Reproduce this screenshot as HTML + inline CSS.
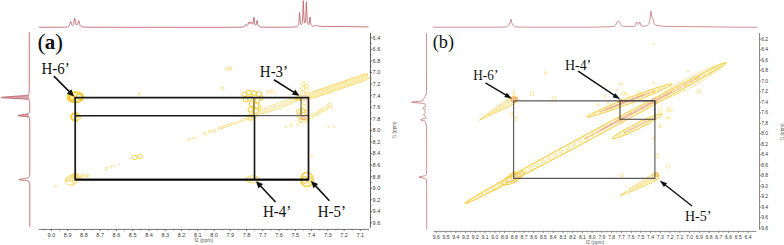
<!DOCTYPE html>
<html><head><meta charset="utf-8"><style>
html,body{margin:0;padding:0;background:#fff;overflow:hidden}
svg{display:block}
</style></head><body>
<svg width="784" height="245" viewBox="0 0 784 245">
<rect width="784" height="245" fill="#fff"/>
<path d="M39.00,27.29 L61.75,27.20 L65.50,27.07 L66.75,26.95 L67.50,26.80 L68.00,26.65 L68.50,26.40 L69.00,25.96 L69.25,25.60 L69.50,25.10 L69.75,24.39 L70.50,21.41 L70.75,21.47 L71.50,24.22 L71.75,24.77 L72.00,25.10 L72.25,25.27 L72.50,25.30 L72.75,25.21 L73.00,24.99 L73.25,24.60 L73.50,24.00 L73.75,23.08 L74.50,18.44 L74.75,17.95 L75.00,19.00 L75.50,22.28 L75.75,23.41 L76.00,24.16 L76.25,24.63 L76.50,24.90 L76.75,25.01 L77.00,24.97 L77.25,24.79 L77.50,24.41 L77.75,23.81 L78.00,22.93 L78.50,20.80 L78.75,20.53 L79.00,21.26 L79.50,23.62 L79.75,24.51 L80.00,25.14 L80.50,25.93 L80.75,26.17 L81.25,26.50 L82.00,26.77 L83.25,26.98 L84.75,27.10 L88.25,27.21 L94.75,27.26 L131.75,27.29 L224.50,27.28 L235.75,27.23 L241.00,27.12 L243.00,26.95 L243.75,26.77 L244.25,26.55 L244.75,26.10 L245.00,25.71 L245.50,24.59 L245.75,24.36 L246.50,25.41 L246.75,25.56 L247.00,25.56 L247.25,25.42 L247.50,25.15 L247.75,24.71 L248.00,24.09 L248.50,22.44 L248.75,21.92 L249.00,22.02 L249.50,23.20 L249.75,23.62 L250.00,23.76 L250.25,23.61 L250.50,23.20 L251.00,22.00 L251.25,21.86 L251.50,22.28 L252.00,23.64 L252.25,24.05 L252.50,24.19 L252.75,24.02 L253.00,23.44 L253.25,22.22 L253.75,17.50 L254.00,17.20 L254.50,22.14 L254.75,23.67 L255.00,24.53 L255.25,24.99 L255.50,25.19 L255.75,25.17 L256.00,24.93 L256.25,24.39 L256.50,23.39 L257.00,20.41 L257.25,20.67 L257.75,23.93 L258.00,24.96 L258.25,25.61 L258.50,26.02 L259.00,26.48 L259.50,26.72 L260.00,26.86 L261.25,27.04 L263.25,27.15 L271.00,27.24 L288.75,27.21 L292.75,27.14 L295.25,26.99 L296.50,26.80 L297.00,26.65 L297.50,26.39 L298.00,25.91 L298.25,25.49 L298.50,24.81 L298.75,23.64 L299.00,21.49 L299.50,12.50 L299.75,13.23 L300.00,18.28 L300.25,21.70 L300.50,23.43 L300.75,24.29 L301.00,24.67 L301.25,24.77 L301.50,24.65 L301.75,24.29 L302.00,23.61 L302.25,22.40 L302.50,20.20 L302.75,16.02 L303.25,0.68 L303.50,4.57 L303.75,13.18 L304.00,18.43 L304.25,21.06 L304.50,22.33 L304.75,22.84 L305.00,22.79 L305.25,22.16 L305.50,20.71 L305.75,17.72 L306.00,11.86 L306.25,3.25 L306.50,1.95 L307.00,17.12 L307.25,20.71 L307.50,22.60 L307.75,23.65 L308.00,24.24 L308.25,24.54 L308.50,24.63 L308.75,24.50 L309.00,24.09 L309.25,23.21 L309.50,21.51 L309.75,18.79 L310.00,16.99 L310.25,18.89 L310.50,21.71 L310.75,23.52 L311.00,24.54 L311.25,25.13 L311.50,25.49 L312.00,25.87 L312.50,26.03 L313.25,26.10 L314.00,26.01 L314.75,25.77 L315.50,25.41 L316.00,25.29 L316.50,25.41 L317.50,25.88 L318.25,26.09 L319.25,26.23 L321.75,26.36 L327.50,26.45 L340.00,26.48 L368.50,26.95" stroke="#c0666e" stroke-width="0.9" fill="none" stroke-linejoin="round" />
<path d="M28.77,94.50 L28.54,94.75 L28.04,95.00 L27.06,95.25 L25.26,95.50 L22.45,95.75 L7.49,96.75 L2.09,97.25 L1.08,97.50 L2.32,97.75 L5.85,98.00 L20.71,98.75 L24.23,99.00 L26.55,99.25 L27.94,99.50 L28.69,99.75 L29.08,100.00 L29.27,100.25 L29.38,100.50 Z" fill="#b85866" fill-opacity="0.55" stroke="none"/>
<path d="M28.19,113.50 L27.60,113.75 L26.79,114.00 L25.69,114.25 L24.19,114.50 L18.64,115.25 L17.85,115.50 L18.41,115.75 L20.19,116.00 L24.93,116.50 L26.81,116.75 L28.09,117.00 L28.85,117.25 L29.25,117.50 L29.46,117.75 Z" fill="#b85866" fill-opacity="0.55" stroke="none"/>
<path d="M29.30,32.20 L29.26,87.45 L29.14,92.45 L29.01,93.70 L28.80,94.45 L28.60,94.70 L28.17,94.95 L27.31,95.20 L25.70,95.45 L23.10,95.70 L8.13,96.70 L2.50,97.20 L1.12,97.45 L1.87,97.70 L4.99,97.95 L19.86,98.70 L23.62,98.95 L26.17,99.20 L27.72,99.45 L28.58,99.70 L29.02,99.95 L29.24,100.20 L29.44,100.70 L29.58,101.70 L29.68,103.45 L29.72,109.70 L29.64,111.70 L29.53,112.20 L29.26,112.70 L28.72,113.20 L28.29,113.45 L26.98,113.95 L24.52,114.45 L18.92,115.20 L17.91,115.45 L18.18,115.70 L19.76,115.95 L24.49,116.45 L26.48,116.70 L27.88,116.95 L28.73,117.20 L29.19,117.45 L29.43,117.70 L29.54,117.95 L29.64,118.45 L29.73,120.45 L29.78,124.95 L29.79,159.45 L29.76,172.70 L29.72,174.70 L29.62,175.70 L29.36,176.45 L29.04,176.95 L28.53,177.45 L27.62,177.95 L26.80,178.20 L25.58,178.45 L20.09,179.20 L18.92,179.45 L18.98,179.70 L20.29,179.95 L24.57,180.45 L26.43,180.70 L27.77,180.95 L28.60,181.20 L29.08,181.45 L29.34,181.70 L29.56,182.20 L29.72,183.70 L29.78,187.70 L29.80,226.95" stroke="#c0666e" stroke-width="0.9" fill="none" stroke-linejoin="round" />
<text x="37.6" y="49.8" font-family="'Liberation Serif', serif" font-size="24" font-weight="normal" fill="#111" text-anchor="start" >(</text>
<text x="44.7" y="48.7" font-family="'Liberation Serif', serif" font-size="21" font-weight="bold" fill="#111" text-anchor="start" >a</text>
<text x="55.0" y="49.8" font-family="'Liberation Serif', serif" font-size="24" font-weight="normal" fill="#111" text-anchor="start" >)</text>
<line x1="370.5" y1="32.8" x2="370.5" y2="227.6" stroke="#3a3a3a" stroke-width="0.8" />
<line x1="370.5" y1="37.8" x2="372" y2="37.8" stroke="#3a3a3a" stroke-width="0.7" />
<text x="372.6" y="39.65" font-family="'Liberation Sans', sans-serif" font-size="5.5" font-weight="normal" fill="#383838" text-anchor="start" >6.4</text>
<line x1="370.5" y1="43.58749999999998" x2="371.6" y2="43.58749999999998" stroke="#3a3a3a" stroke-width="0.5" />
<line x1="370.5" y1="49.37500000000001" x2="372" y2="49.37500000000001" stroke="#3a3a3a" stroke-width="0.7" />
<text x="372.6" y="51.22500000000001" font-family="'Liberation Sans', sans-serif" font-size="5.5" font-weight="normal" fill="#383838" text-anchor="start" >6.6</text>
<line x1="370.5" y1="55.16249999999999" x2="371.6" y2="55.16249999999999" stroke="#3a3a3a" stroke-width="0.5" />
<line x1="370.5" y1="60.95000000000002" x2="372" y2="60.95000000000002" stroke="#3a3a3a" stroke-width="0.7" />
<text x="372.6" y="62.80000000000002" font-family="'Liberation Sans', sans-serif" font-size="5.5" font-weight="normal" fill="#383838" text-anchor="start" >6.8</text>
<line x1="370.5" y1="66.7375" x2="371.6" y2="66.7375" stroke="#3a3a3a" stroke-width="0.5" />
<line x1="370.5" y1="72.52499999999998" x2="372" y2="72.52499999999998" stroke="#3a3a3a" stroke-width="0.7" />
<text x="372.6" y="74.37499999999997" font-family="'Liberation Sans', sans-serif" font-size="5.5" font-weight="normal" fill="#383838" text-anchor="start" >7.0</text>
<line x1="370.5" y1="78.31249999999996" x2="371.6" y2="78.31249999999996" stroke="#3a3a3a" stroke-width="0.5" />
<line x1="370.5" y1="84.1" x2="372" y2="84.1" stroke="#3a3a3a" stroke-width="0.7" />
<text x="372.6" y="85.94999999999999" font-family="'Liberation Sans', sans-serif" font-size="5.5" font-weight="normal" fill="#383838" text-anchor="start" >7.2</text>
<line x1="370.5" y1="89.88749999999996" x2="371.6" y2="89.88749999999996" stroke="#3a3a3a" stroke-width="0.5" />
<line x1="370.5" y1="95.675" x2="372" y2="95.675" stroke="#3a3a3a" stroke-width="0.7" />
<text x="372.6" y="97.52499999999999" font-family="'Liberation Sans', sans-serif" font-size="5.5" font-weight="normal" fill="#383838" text-anchor="start" >7.4</text>
<line x1="370.5" y1="101.46249999999998" x2="371.6" y2="101.46249999999998" stroke="#3a3a3a" stroke-width="0.5" />
<line x1="370.5" y1="107.25000000000001" x2="372" y2="107.25000000000001" stroke="#3a3a3a" stroke-width="0.7" />
<text x="372.6" y="109.10000000000001" font-family="'Liberation Sans', sans-serif" font-size="5.5" font-weight="normal" fill="#383838" text-anchor="start" >7.6</text>
<line x1="370.5" y1="113.03749999999998" x2="371.6" y2="113.03749999999998" stroke="#3a3a3a" stroke-width="0.5" />
<line x1="370.5" y1="118.82500000000002" x2="372" y2="118.82500000000002" stroke="#3a3a3a" stroke-width="0.7" />
<text x="372.6" y="120.67500000000001" font-family="'Liberation Sans', sans-serif" font-size="5.5" font-weight="normal" fill="#383838" text-anchor="start" >7.8</text>
<line x1="370.5" y1="124.6125" x2="371.6" y2="124.6125" stroke="#3a3a3a" stroke-width="0.5" />
<line x1="370.5" y1="130.39999999999998" x2="372" y2="130.39999999999998" stroke="#3a3a3a" stroke-width="0.7" />
<text x="372.6" y="132.24999999999997" font-family="'Liberation Sans', sans-serif" font-size="5.5" font-weight="normal" fill="#383838" text-anchor="start" >8.0</text>
<line x1="370.5" y1="136.18749999999994" x2="371.6" y2="136.18749999999994" stroke="#3a3a3a" stroke-width="0.5" />
<line x1="370.5" y1="141.97500000000002" x2="372" y2="141.97500000000002" stroke="#3a3a3a" stroke-width="0.7" />
<text x="372.6" y="143.82500000000002" font-family="'Liberation Sans', sans-serif" font-size="5.5" font-weight="normal" fill="#383838" text-anchor="start" >8.2</text>
<line x1="370.5" y1="147.76250000000002" x2="371.6" y2="147.76250000000002" stroke="#3a3a3a" stroke-width="0.5" />
<line x1="370.5" y1="153.55" x2="372" y2="153.55" stroke="#3a3a3a" stroke-width="0.7" />
<text x="372.6" y="155.4" font-family="'Liberation Sans', sans-serif" font-size="5.5" font-weight="normal" fill="#383838" text-anchor="start" >8.4</text>
<line x1="370.5" y1="159.33749999999998" x2="371.6" y2="159.33749999999998" stroke="#3a3a3a" stroke-width="0.5" />
<line x1="370.5" y1="165.12500000000006" x2="372" y2="165.12500000000006" stroke="#3a3a3a" stroke-width="0.7" />
<text x="372.6" y="166.97500000000005" font-family="'Liberation Sans', sans-serif" font-size="5.5" font-weight="normal" fill="#383838" text-anchor="start" >8.6</text>
<line x1="370.5" y1="170.91250000000002" x2="371.6" y2="170.91250000000002" stroke="#3a3a3a" stroke-width="0.5" />
<line x1="370.5" y1="176.70000000000005" x2="372" y2="176.70000000000005" stroke="#3a3a3a" stroke-width="0.7" />
<text x="372.6" y="178.55000000000004" font-family="'Liberation Sans', sans-serif" font-size="5.5" font-weight="normal" fill="#383838" text-anchor="start" >8.8</text>
<line x1="370.5" y1="182.4875" x2="371.6" y2="182.4875" stroke="#3a3a3a" stroke-width="0.5" />
<line x1="370.5" y1="188.27499999999998" x2="372" y2="188.27499999999998" stroke="#3a3a3a" stroke-width="0.7" />
<text x="372.6" y="190.12499999999997" font-family="'Liberation Sans', sans-serif" font-size="5.5" font-weight="normal" fill="#383838" text-anchor="start" >9.0</text>
<line x1="370.5" y1="194.06249999999994" x2="371.6" y2="194.06249999999994" stroke="#3a3a3a" stroke-width="0.5" />
<line x1="370.5" y1="199.85000000000002" x2="372" y2="199.85000000000002" stroke="#3a3a3a" stroke-width="0.7" />
<text x="372.6" y="201.70000000000002" font-family="'Liberation Sans', sans-serif" font-size="5.5" font-weight="normal" fill="#383838" text-anchor="start" >9.2</text>
<line x1="370.5" y1="205.63750000000005" x2="371.6" y2="205.63750000000005" stroke="#3a3a3a" stroke-width="0.5" />
<line x1="370.5" y1="211.425" x2="372" y2="211.425" stroke="#3a3a3a" stroke-width="0.7" />
<text x="372.6" y="213.275" font-family="'Liberation Sans', sans-serif" font-size="5.5" font-weight="normal" fill="#383838" text-anchor="start" >9.4</text>
<line x1="370.5" y1="217.21249999999998" x2="371.6" y2="217.21249999999998" stroke="#3a3a3a" stroke-width="0.5" />
<line x1="370.5" y1="223.00000000000006" x2="372" y2="223.00000000000006" stroke="#3a3a3a" stroke-width="0.7" />
<text x="372.6" y="224.85000000000005" font-family="'Liberation Sans', sans-serif" font-size="5.5" font-weight="normal" fill="#383838" text-anchor="start" >9.6</text>
<line x1="38.9" y1="229.4" x2="368.7" y2="229.4" stroke="#3a3a3a" stroke-width="0.7" />
<line x1="51.4" y1="229.4" x2="51.4" y2="231" stroke="#3a3a3a" stroke-width="0.7" />
<text x="51.4" y="236.9" font-family="'Liberation Sans', sans-serif" font-size="5.5" font-weight="normal" fill="#383838" text-anchor="middle" >9.0</text>
<line x1="43.26999999999988" y1="229.4" x2="43.26999999999988" y2="230.6" stroke="#3a3a3a" stroke-width="0.5" />
<line x1="67.65999999999994" y1="229.4" x2="67.65999999999994" y2="231" stroke="#3a3a3a" stroke-width="0.7" />
<text x="67.65999999999994" y="236.9" font-family="'Liberation Sans', sans-serif" font-size="5.5" font-weight="normal" fill="#383838" text-anchor="middle" >8.9</text>
<line x1="59.52999999999982" y1="229.4" x2="59.52999999999982" y2="230.6" stroke="#3a3a3a" stroke-width="0.5" />
<line x1="83.91999999999987" y1="229.4" x2="83.91999999999987" y2="231" stroke="#3a3a3a" stroke-width="0.7" />
<text x="83.91999999999987" y="236.9" font-family="'Liberation Sans', sans-serif" font-size="5.5" font-weight="normal" fill="#383838" text-anchor="middle" >8.8</text>
<line x1="75.78999999999976" y1="229.4" x2="75.78999999999976" y2="230.6" stroke="#3a3a3a" stroke-width="0.5" />
<line x1="100.18000000000012" y1="229.4" x2="100.18000000000012" y2="231" stroke="#3a3a3a" stroke-width="0.7" />
<text x="100.18000000000012" y="236.9" font-family="'Liberation Sans', sans-serif" font-size="5.5" font-weight="normal" fill="#383838" text-anchor="middle" >8.7</text>
<line x1="92.05" y1="229.4" x2="92.05" y2="230.6" stroke="#3a3a3a" stroke-width="0.5" />
<line x1="116.44000000000005" y1="229.4" x2="116.44000000000005" y2="231" stroke="#3a3a3a" stroke-width="0.7" />
<text x="116.44000000000005" y="236.9" font-family="'Liberation Sans', sans-serif" font-size="5.5" font-weight="normal" fill="#383838" text-anchor="middle" >8.6</text>
<line x1="108.30999999999995" y1="229.4" x2="108.30999999999995" y2="230.6" stroke="#3a3a3a" stroke-width="0.5" />
<line x1="132.7" y1="229.4" x2="132.7" y2="231" stroke="#3a3a3a" stroke-width="0.7" />
<text x="132.7" y="236.9" font-family="'Liberation Sans', sans-serif" font-size="5.5" font-weight="normal" fill="#383838" text-anchor="middle" >8.5</text>
<line x1="124.56999999999988" y1="229.4" x2="124.56999999999988" y2="230.6" stroke="#3a3a3a" stroke-width="0.5" />
<line x1="148.95999999999995" y1="229.4" x2="148.95999999999995" y2="231" stroke="#3a3a3a" stroke-width="0.7" />
<text x="148.95999999999995" y="236.9" font-family="'Liberation Sans', sans-serif" font-size="5.5" font-weight="normal" fill="#383838" text-anchor="middle" >8.4</text>
<line x1="140.8299999999998" y1="229.4" x2="140.8299999999998" y2="230.6" stroke="#3a3a3a" stroke-width="0.5" />
<line x1="165.21999999999989" y1="229.4" x2="165.21999999999989" y2="231" stroke="#3a3a3a" stroke-width="0.7" />
<text x="165.21999999999989" y="236.9" font-family="'Liberation Sans', sans-serif" font-size="5.5" font-weight="normal" fill="#383838" text-anchor="middle" >8.3</text>
<line x1="157.08999999999978" y1="229.4" x2="157.08999999999978" y2="230.6" stroke="#3a3a3a" stroke-width="0.5" />
<line x1="181.4800000000001" y1="229.4" x2="181.4800000000001" y2="231" stroke="#3a3a3a" stroke-width="0.7" />
<text x="181.4800000000001" y="236.9" font-family="'Liberation Sans', sans-serif" font-size="5.5" font-weight="normal" fill="#383838" text-anchor="middle" >8.2</text>
<line x1="173.35" y1="229.4" x2="173.35" y2="230.6" stroke="#3a3a3a" stroke-width="0.5" />
<line x1="197.74000000000007" y1="229.4" x2="197.74000000000007" y2="231" stroke="#3a3a3a" stroke-width="0.7" />
<text x="197.74000000000007" y="236.9" font-family="'Liberation Sans', sans-serif" font-size="5.5" font-weight="normal" fill="#383838" text-anchor="middle" >8.1</text>
<line x1="189.60999999999996" y1="229.4" x2="189.60999999999996" y2="230.6" stroke="#3a3a3a" stroke-width="0.5" />
<line x1="214.0" y1="229.4" x2="214.0" y2="231" stroke="#3a3a3a" stroke-width="0.7" />
<text x="214.0" y="236.9" font-family="'Liberation Sans', sans-serif" font-size="5.5" font-weight="normal" fill="#383838" text-anchor="middle" >8.0</text>
<line x1="205.8699999999999" y1="229.4" x2="205.8699999999999" y2="230.6" stroke="#3a3a3a" stroke-width="0.5" />
<line x1="230.25999999999993" y1="229.4" x2="230.25999999999993" y2="231" stroke="#3a3a3a" stroke-width="0.7" />
<text x="230.25999999999993" y="236.9" font-family="'Liberation Sans', sans-serif" font-size="5.5" font-weight="normal" fill="#383838" text-anchor="middle" >7.9</text>
<line x1="222.12999999999997" y1="229.4" x2="222.12999999999997" y2="230.6" stroke="#3a3a3a" stroke-width="0.5" />
<line x1="246.52000000000004" y1="229.4" x2="246.52000000000004" y2="231" stroke="#3a3a3a" stroke-width="0.7" />
<text x="246.52000000000004" y="236.9" font-family="'Liberation Sans', sans-serif" font-size="5.5" font-weight="normal" fill="#383838" text-anchor="middle" >7.8</text>
<line x1="238.39000000000004" y1="229.4" x2="238.39000000000004" y2="230.6" stroke="#3a3a3a" stroke-width="0.5" />
<line x1="262.78" y1="229.4" x2="262.78" y2="231" stroke="#3a3a3a" stroke-width="0.7" />
<text x="262.78" y="236.9" font-family="'Liberation Sans', sans-serif" font-size="5.5" font-weight="normal" fill="#383838" text-anchor="middle" >7.7</text>
<line x1="254.65" y1="229.4" x2="254.65" y2="230.6" stroke="#3a3a3a" stroke-width="0.5" />
<line x1="279.04" y1="229.4" x2="279.04" y2="231" stroke="#3a3a3a" stroke-width="0.7" />
<text x="279.04" y="236.9" font-family="'Liberation Sans', sans-serif" font-size="5.5" font-weight="normal" fill="#383838" text-anchor="middle" >7.6</text>
<line x1="270.9100000000001" y1="229.4" x2="270.9100000000001" y2="230.6" stroke="#3a3a3a" stroke-width="0.5" />
<line x1="295.29999999999995" y1="229.4" x2="295.29999999999995" y2="231" stroke="#3a3a3a" stroke-width="0.7" />
<text x="295.29999999999995" y="236.9" font-family="'Liberation Sans', sans-serif" font-size="5.5" font-weight="normal" fill="#383838" text-anchor="middle" >7.5</text>
<line x1="287.17" y1="229.4" x2="287.17" y2="230.6" stroke="#3a3a3a" stroke-width="0.5" />
<line x1="311.5599999999999" y1="229.4" x2="311.5599999999999" y2="231" stroke="#3a3a3a" stroke-width="0.7" />
<text x="311.5599999999999" y="236.9" font-family="'Liberation Sans', sans-serif" font-size="5.5" font-weight="normal" fill="#383838" text-anchor="middle" >7.4</text>
<line x1="303.42999999999995" y1="229.4" x2="303.42999999999995" y2="230.6" stroke="#3a3a3a" stroke-width="0.5" />
<line x1="327.82" y1="229.4" x2="327.82" y2="231" stroke="#3a3a3a" stroke-width="0.7" />
<text x="327.82" y="236.9" font-family="'Liberation Sans', sans-serif" font-size="5.5" font-weight="normal" fill="#383838" text-anchor="middle" >7.3</text>
<line x1="319.69" y1="229.4" x2="319.69" y2="230.6" stroke="#3a3a3a" stroke-width="0.5" />
<line x1="344.0799999999999" y1="229.4" x2="344.0799999999999" y2="231" stroke="#3a3a3a" stroke-width="0.7" />
<text x="344.0799999999999" y="236.9" font-family="'Liberation Sans', sans-serif" font-size="5.5" font-weight="normal" fill="#383838" text-anchor="middle" >7.2</text>
<line x1="335.95" y1="229.4" x2="335.95" y2="230.6" stroke="#3a3a3a" stroke-width="0.5" />
<line x1="360.34000000000003" y1="229.4" x2="360.34000000000003" y2="231" stroke="#3a3a3a" stroke-width="0.7" />
<text x="360.34000000000003" y="236.9" font-family="'Liberation Sans', sans-serif" font-size="5.5" font-weight="normal" fill="#383838" text-anchor="middle" >7.1</text>
<line x1="352.21000000000004" y1="229.4" x2="352.21000000000004" y2="230.6" stroke="#3a3a3a" stroke-width="0.5" />
<line x1="368.46999999999997" y1="229.4" x2="368.46999999999997" y2="230.6" stroke="#3a3a3a" stroke-width="0.5" />
<text x="203.7" y="242.3" font-family="'Liberation Sans', sans-serif" font-size="5.0" font-weight="normal" fill="#555" text-anchor="middle" >f2 (ppm)</text>
<text x="0" y="0" font-family="'Liberation Sans', sans-serif" font-size="4.6" font-weight="normal" fill="#555" text-anchor="middle" transform="translate(395.6,130) rotate(-90)">f1 (ppm)</text>
<path d="M432.90,27.20 L495.15,27.17 L502.40,27.11 L505.65,26.97 L506.65,26.78 L507.40,26.43 L508.15,25.77 L508.65,25.10 L510.15,22.43 L510.40,21.69 L510.90,19.26 L511.15,19.56 L511.65,22.36 L511.90,23.14 L512.40,24.16 L513.15,25.38 L513.90,26.21 L514.65,26.66 L515.65,26.93 L516.90,27.04 L520.90,27.14 L528.90,27.18 L589.90,27.19 L605.65,26.85 L611.65,26.64 L613.15,26.53 L613.90,26.41 L614.40,26.24 L614.90,25.92 L615.40,25.32 L615.65,24.90 L616.65,22.60 L617.15,21.66 L617.40,21.42 L617.65,21.31 L618.40,21.27 L618.90,21.33 L619.15,21.50 L619.40,21.83 L620.65,24.61 L621.15,25.41 L621.40,25.69 L621.90,26.04 L622.65,26.25 L623.65,26.33 L625.40,26.37 L631.65,26.29 L633.90,26.21 L634.90,26.05 L635.40,25.77 L635.65,25.39 L635.90,24.69 L636.40,22.48 L636.65,21.97 L636.90,22.41 L637.40,23.78 L637.65,24.03 L637.90,24.08 L638.65,24.06 L638.90,23.91 L639.15,23.46 L639.65,22.04 L639.90,22.14 L640.65,25.12 L640.90,25.61 L641.15,25.85 L641.40,25.97 L641.90,26.09 L642.90,26.16 L645.40,26.10 L646.65,25.89 L647.15,25.67 L647.65,25.29 L648.15,24.71 L648.65,23.95 L649.15,23.04 L649.40,22.43 L649.65,21.57 L649.90,20.22 L650.15,18.22 L650.65,12.93 L650.90,11.13 L651.15,11.19 L651.90,16.89 L652.15,17.86 L652.40,18.16 L652.65,18.24 L652.90,18.54 L653.15,19.26 L654.15,23.34 L654.40,23.98 L654.65,24.43 L654.90,24.72 L655.15,24.89 L655.65,25.07 L660.65,26.04 L662.40,26.23 L664.65,26.35 L675.65,26.53 L739.90,27.20 L757.40,27.20" stroke="#c27479" stroke-width="0.8" fill="none" stroke-linejoin="round" />
<path d="M426.60,33.00 L426.56,86.75 L426.49,92.50 L426.42,93.75 L426.28,94.75 L425.53,95.00 L425.31,95.75 L424.98,96.50 L423.65,98.75 L423.45,99.25 L423.22,100.25 L423.00,100.50 L422.49,100.75 L421.45,101.00 L419.67,101.25 L411.99,102.00 L411.45,102.25 L413.08,102.50 L419.05,103.00 L421.53,103.25 L423.22,103.50 L424.22,103.75 L424.75,104.00 L425.04,104.25 L425.31,104.75 L425.46,105.50 L425.41,106.25 L425.09,106.75 L424.32,107.25 L423.25,107.75 L422.85,108.00 L422.75,108.25 L422.99,108.50 L424.53,109.25 L424.92,109.50 L425.16,109.75 L425.28,110.00 L425.24,110.50 L424.94,111.25 L424.91,111.50 L425.20,112.50 L425.21,112.75 L425.13,113.00 L424.62,113.50 L423.87,114.00 L423.62,114.25 L423.60,114.50 L423.82,114.75 L424.96,115.50 L425.43,116.00 L425.55,116.25 L425.63,116.75 L425.55,117.50 L425.27,118.00 L424.94,118.25 L424.42,118.50 L420.89,119.50 L420.47,119.75 L420.66,120.00 L421.39,120.25 L424.18,121.00 L424.79,121.25 L425.19,121.50 L425.44,121.75 L425.66,122.25 L425.76,123.00 L425.83,124.75 L426.63,125.00 L426.68,164.75 L426.65,171.00 L426.54,173.75 L426.43,174.50 L426.21,175.00 L425.96,175.25 L425.52,175.50 L424.83,175.75 L423.82,176.00 L419.75,176.75 L418.97,177.00 L419.07,177.25 L419.98,177.50 L424.05,178.25 L424.99,178.50 L425.63,178.75 L426.02,179.00 L426.24,179.25 L426.37,179.50 L426.49,180.00 L426.63,182.25 L426.68,186.75 L426.70,229.50" stroke="#c27479" stroke-width="0.8" fill="none" stroke-linejoin="round" />
<text x="432.8" y="48.0" font-family="'Liberation Serif', serif" font-size="18.2" font-weight="normal" fill="#111" text-anchor="start" >(b)</text>
<line x1="759.5" y1="33" x2="759.5" y2="229.8" stroke="#5a5a5a" stroke-width="0.7" />
<line x1="759.5" y1="39.2" x2="761" y2="39.2" stroke="#5a5a5a" stroke-width="0.7" />
<text x="761.2" y="40.95" font-family="'Liberation Sans', sans-serif" font-size="5.0" font-weight="normal" fill="#383838" text-anchor="start" >6.2</text>
<line x1="759.5" y1="44.44999999999998" x2="760.7" y2="44.44999999999998" stroke="#5a5a5a" stroke-width="0.5" />
<line x1="759.5" y1="49.70000000000001" x2="761" y2="49.70000000000001" stroke="#5a5a5a" stroke-width="0.7" />
<text x="761.2" y="51.45000000000001" font-family="'Liberation Sans', sans-serif" font-size="5.0" font-weight="normal" fill="#383838" text-anchor="start" >6.4</text>
<line x1="759.5" y1="54.949999999999996" x2="760.7" y2="54.949999999999996" stroke="#5a5a5a" stroke-width="0.5" />
<line x1="759.5" y1="60.20000000000002" x2="761" y2="60.20000000000002" stroke="#5a5a5a" stroke-width="0.7" />
<text x="761.2" y="61.95000000000002" font-family="'Liberation Sans', sans-serif" font-size="5.0" font-weight="normal" fill="#383838" text-anchor="start" >6.6</text>
<line x1="759.5" y1="65.45" x2="760.7" y2="65.45" stroke="#5a5a5a" stroke-width="0.5" />
<line x1="759.5" y1="70.70000000000003" x2="761" y2="70.70000000000003" stroke="#5a5a5a" stroke-width="0.7" />
<text x="761.2" y="72.45000000000003" font-family="'Liberation Sans', sans-serif" font-size="5.0" font-weight="normal" fill="#383838" text-anchor="start" >6.8</text>
<line x1="759.5" y1="75.95000000000002" x2="760.7" y2="75.95000000000002" stroke="#5a5a5a" stroke-width="0.5" />
<line x1="759.5" y1="81.19999999999999" x2="761" y2="81.19999999999999" stroke="#5a5a5a" stroke-width="0.7" />
<text x="761.2" y="82.94999999999999" font-family="'Liberation Sans', sans-serif" font-size="5.0" font-weight="normal" fill="#383838" text-anchor="start" >7.0</text>
<line x1="759.5" y1="86.44999999999997" x2="760.7" y2="86.44999999999997" stroke="#5a5a5a" stroke-width="0.5" />
<line x1="759.5" y1="91.7" x2="761" y2="91.7" stroke="#5a5a5a" stroke-width="0.7" />
<text x="761.2" y="93.45" font-family="'Liberation Sans', sans-serif" font-size="5.0" font-weight="normal" fill="#383838" text-anchor="start" >7.2</text>
<line x1="759.5" y1="96.94999999999999" x2="760.7" y2="96.94999999999999" stroke="#5a5a5a" stroke-width="0.5" />
<line x1="759.5" y1="102.20000000000002" x2="761" y2="102.20000000000002" stroke="#5a5a5a" stroke-width="0.7" />
<text x="761.2" y="103.95000000000002" font-family="'Liberation Sans', sans-serif" font-size="5.0" font-weight="normal" fill="#383838" text-anchor="start" >7.4</text>
<line x1="759.5" y1="107.44999999999999" x2="760.7" y2="107.44999999999999" stroke="#5a5a5a" stroke-width="0.5" />
<line x1="759.5" y1="112.70000000000002" x2="761" y2="112.70000000000002" stroke="#5a5a5a" stroke-width="0.7" />
<text x="761.2" y="114.45000000000002" font-family="'Liberation Sans', sans-serif" font-size="5.0" font-weight="normal" fill="#383838" text-anchor="start" >7.6</text>
<line x1="759.5" y1="117.95" x2="760.7" y2="117.95" stroke="#5a5a5a" stroke-width="0.5" />
<line x1="759.5" y1="123.20000000000003" x2="761" y2="123.20000000000003" stroke="#5a5a5a" stroke-width="0.7" />
<text x="761.2" y="124.95000000000003" font-family="'Liberation Sans', sans-serif" font-size="5.0" font-weight="normal" fill="#383838" text-anchor="start" >7.8</text>
<line x1="759.5" y1="128.45000000000002" x2="760.7" y2="128.45000000000002" stroke="#5a5a5a" stroke-width="0.5" />
<line x1="759.5" y1="133.7" x2="761" y2="133.7" stroke="#5a5a5a" stroke-width="0.7" />
<text x="761.2" y="135.45" font-family="'Liberation Sans', sans-serif" font-size="5.0" font-weight="normal" fill="#383838" text-anchor="start" >8.0</text>
<line x1="759.5" y1="138.95" x2="760.7" y2="138.95" stroke="#5a5a5a" stroke-width="0.5" />
<line x1="759.5" y1="144.19999999999996" x2="761" y2="144.19999999999996" stroke="#5a5a5a" stroke-width="0.7" />
<text x="761.2" y="145.94999999999996" font-family="'Liberation Sans', sans-serif" font-size="5.0" font-weight="normal" fill="#383838" text-anchor="start" >8.2</text>
<line x1="759.5" y1="149.44999999999993" x2="760.7" y2="149.44999999999993" stroke="#5a5a5a" stroke-width="0.5" />
<line x1="759.5" y1="154.70000000000002" x2="761" y2="154.70000000000002" stroke="#5a5a5a" stroke-width="0.7" />
<text x="761.2" y="156.45000000000002" font-family="'Liberation Sans', sans-serif" font-size="5.0" font-weight="normal" fill="#383838" text-anchor="start" >8.4</text>
<line x1="759.5" y1="159.95" x2="760.7" y2="159.95" stroke="#5a5a5a" stroke-width="0.5" />
<line x1="759.5" y1="165.20000000000007" x2="761" y2="165.20000000000007" stroke="#5a5a5a" stroke-width="0.7" />
<text x="761.2" y="166.95000000000007" font-family="'Liberation Sans', sans-serif" font-size="5.0" font-weight="normal" fill="#383838" text-anchor="start" >8.6</text>
<line x1="759.5" y1="170.45000000000005" x2="760.7" y2="170.45000000000005" stroke="#5a5a5a" stroke-width="0.5" />
<line x1="759.5" y1="175.70000000000005" x2="761" y2="175.70000000000005" stroke="#5a5a5a" stroke-width="0.7" />
<text x="761.2" y="177.45000000000005" font-family="'Liberation Sans', sans-serif" font-size="5.0" font-weight="normal" fill="#383838" text-anchor="start" >8.8</text>
<line x1="759.5" y1="180.95" x2="760.7" y2="180.95" stroke="#5a5a5a" stroke-width="0.5" />
<line x1="759.5" y1="186.2" x2="761" y2="186.2" stroke="#5a5a5a" stroke-width="0.7" />
<text x="761.2" y="187.95" font-family="'Liberation Sans', sans-serif" font-size="5.0" font-weight="normal" fill="#383838" text-anchor="start" >9.0</text>
<line x1="759.5" y1="191.45" x2="760.7" y2="191.45" stroke="#5a5a5a" stroke-width="0.5" />
<line x1="759.5" y1="196.69999999999993" x2="761" y2="196.69999999999993" stroke="#5a5a5a" stroke-width="0.7" />
<text x="761.2" y="198.44999999999993" font-family="'Liberation Sans', sans-serif" font-size="5.0" font-weight="normal" fill="#383838" text-anchor="start" >9.2</text>
<line x1="759.5" y1="201.94999999999993" x2="760.7" y2="201.94999999999993" stroke="#5a5a5a" stroke-width="0.5" />
<line x1="759.5" y1="207.2" x2="761" y2="207.2" stroke="#5a5a5a" stroke-width="0.7" />
<text x="761.2" y="208.95" font-family="'Liberation Sans', sans-serif" font-size="5.0" font-weight="normal" fill="#383838" text-anchor="start" >9.4</text>
<line x1="759.5" y1="212.45" x2="760.7" y2="212.45" stroke="#5a5a5a" stroke-width="0.5" />
<line x1="759.5" y1="217.70000000000005" x2="761" y2="217.70000000000005" stroke="#5a5a5a" stroke-width="0.7" />
<text x="761.2" y="219.45000000000005" font-family="'Liberation Sans', sans-serif" font-size="5.0" font-weight="normal" fill="#383838" text-anchor="start" >9.6</text>
<line x1="759.5" y1="222.95000000000005" x2="760.7" y2="222.95000000000005" stroke="#5a5a5a" stroke-width="0.5" />
<line x1="759.5" y1="228.20000000000005" x2="761" y2="228.20000000000005" stroke="#5a5a5a" stroke-width="0.7" />
<text x="761.2" y="229.95000000000005" font-family="'Liberation Sans', sans-serif" font-size="5.0" font-weight="normal" fill="#383838" text-anchor="start" >9.8</text>
<line x1="433.4" y1="231.4" x2="756.4" y2="231.4" stroke="#5a5a5a" stroke-width="0.7" />
<line x1="436.3" y1="231.4" x2="436.3" y2="233.0" stroke="#5a5a5a" stroke-width="0.7" />
<text x="436.3" y="238.9" font-family="'Liberation Sans', sans-serif" font-size="5.0" font-weight="normal" fill="#383838" text-anchor="middle" >9.6</text>
<line x1="441.1700000000001" y1="231.4" x2="441.1700000000001" y2="232.6" stroke="#5a5a5a" stroke-width="0.5" />
<line x1="446.03999999999996" y1="231.4" x2="446.03999999999996" y2="233.0" stroke="#5a5a5a" stroke-width="0.7" />
<text x="446.03999999999996" y="238.9" font-family="'Liberation Sans', sans-serif" font-size="5.0" font-weight="normal" fill="#383838" text-anchor="middle" >9.5</text>
<line x1="450.91" y1="231.4" x2="450.91" y2="232.6" stroke="#5a5a5a" stroke-width="0.5" />
<line x1="455.78" y1="231.4" x2="455.78" y2="233.0" stroke="#5a5a5a" stroke-width="0.7" />
<text x="455.78" y="238.9" font-family="'Liberation Sans', sans-serif" font-size="5.0" font-weight="normal" fill="#383838" text-anchor="middle" >9.4</text>
<line x1="460.65000000000003" y1="231.4" x2="460.65000000000003" y2="232.6" stroke="#5a5a5a" stroke-width="0.5" />
<line x1="465.5200000000001" y1="231.4" x2="465.5200000000001" y2="233.0" stroke="#5a5a5a" stroke-width="0.7" />
<text x="465.5200000000001" y="238.9" font-family="'Liberation Sans', sans-serif" font-size="5.0" font-weight="normal" fill="#383838" text-anchor="middle" >9.3</text>
<line x1="470.39000000000016" y1="231.4" x2="470.39000000000016" y2="232.6" stroke="#5a5a5a" stroke-width="0.5" />
<line x1="475.26000000000005" y1="231.4" x2="475.26000000000005" y2="233.0" stroke="#5a5a5a" stroke-width="0.7" />
<text x="475.26000000000005" y="238.9" font-family="'Liberation Sans', sans-serif" font-size="5.0" font-weight="normal" fill="#383838" text-anchor="middle" >9.2</text>
<line x1="480.1300000000001" y1="231.4" x2="480.1300000000001" y2="232.6" stroke="#5a5a5a" stroke-width="0.5" />
<line x1="485.0" y1="231.4" x2="485.0" y2="233.0" stroke="#5a5a5a" stroke-width="0.7" />
<text x="485.0" y="238.9" font-family="'Liberation Sans', sans-serif" font-size="5.0" font-weight="normal" fill="#383838" text-anchor="middle" >9.1</text>
<line x1="489.87000000000006" y1="231.4" x2="489.87000000000006" y2="232.6" stroke="#5a5a5a" stroke-width="0.5" />
<line x1="494.74" y1="231.4" x2="494.74" y2="233.0" stroke="#5a5a5a" stroke-width="0.7" />
<text x="494.74" y="238.9" font-family="'Liberation Sans', sans-serif" font-size="5.0" font-weight="normal" fill="#383838" text-anchor="middle" >9.0</text>
<line x1="499.61000000000007" y1="231.4" x2="499.61000000000007" y2="232.6" stroke="#5a5a5a" stroke-width="0.5" />
<line x1="504.47999999999996" y1="231.4" x2="504.47999999999996" y2="233.0" stroke="#5a5a5a" stroke-width="0.7" />
<text x="504.47999999999996" y="238.9" font-family="'Liberation Sans', sans-serif" font-size="5.0" font-weight="normal" fill="#383838" text-anchor="middle" >8.9</text>
<line x1="509.35" y1="231.4" x2="509.35" y2="232.6" stroke="#5a5a5a" stroke-width="0.5" />
<line x1="514.22" y1="231.4" x2="514.22" y2="233.0" stroke="#5a5a5a" stroke-width="0.7" />
<text x="514.22" y="238.9" font-family="'Liberation Sans', sans-serif" font-size="5.0" font-weight="normal" fill="#383838" text-anchor="middle" >8.8</text>
<line x1="519.0900000000001" y1="231.4" x2="519.0900000000001" y2="232.6" stroke="#5a5a5a" stroke-width="0.5" />
<line x1="523.96" y1="231.4" x2="523.96" y2="233.0" stroke="#5a5a5a" stroke-width="0.7" />
<text x="523.96" y="238.9" font-family="'Liberation Sans', sans-serif" font-size="5.0" font-weight="normal" fill="#383838" text-anchor="middle" >8.7</text>
<line x1="528.8300000000002" y1="231.4" x2="528.8300000000002" y2="232.6" stroke="#5a5a5a" stroke-width="0.5" />
<line x1="533.7" y1="231.4" x2="533.7" y2="233.0" stroke="#5a5a5a" stroke-width="0.7" />
<text x="533.7" y="238.9" font-family="'Liberation Sans', sans-serif" font-size="5.0" font-weight="normal" fill="#383838" text-anchor="middle" >8.6</text>
<line x1="538.57" y1="231.4" x2="538.57" y2="232.6" stroke="#5a5a5a" stroke-width="0.5" />
<line x1="543.4399999999999" y1="231.4" x2="543.4399999999999" y2="233.0" stroke="#5a5a5a" stroke-width="0.7" />
<text x="543.4399999999999" y="238.9" font-family="'Liberation Sans', sans-serif" font-size="5.0" font-weight="normal" fill="#383838" text-anchor="middle" >8.5</text>
<line x1="548.3100000000001" y1="231.4" x2="548.3100000000001" y2="232.6" stroke="#5a5a5a" stroke-width="0.5" />
<line x1="553.1800000000001" y1="231.4" x2="553.1800000000001" y2="233.0" stroke="#5a5a5a" stroke-width="0.7" />
<text x="553.1800000000001" y="238.9" font-family="'Liberation Sans', sans-serif" font-size="5.0" font-weight="normal" fill="#383838" text-anchor="middle" >8.4</text>
<line x1="558.0500000000002" y1="231.4" x2="558.0500000000002" y2="232.6" stroke="#5a5a5a" stroke-width="0.5" />
<line x1="562.9200000000001" y1="231.4" x2="562.9200000000001" y2="233.0" stroke="#5a5a5a" stroke-width="0.7" />
<text x="562.9200000000001" y="238.9" font-family="'Liberation Sans', sans-serif" font-size="5.0" font-weight="normal" fill="#383838" text-anchor="middle" >8.3</text>
<line x1="567.7900000000002" y1="231.4" x2="567.7900000000002" y2="232.6" stroke="#5a5a5a" stroke-width="0.5" />
<line x1="572.6600000000001" y1="231.4" x2="572.6600000000001" y2="233.0" stroke="#5a5a5a" stroke-width="0.7" />
<text x="572.6600000000001" y="238.9" font-family="'Liberation Sans', sans-serif" font-size="5.0" font-weight="normal" fill="#383838" text-anchor="middle" >8.2</text>
<line x1="577.5300000000001" y1="231.4" x2="577.5300000000001" y2="232.6" stroke="#5a5a5a" stroke-width="0.5" />
<line x1="582.4000000000001" y1="231.4" x2="582.4000000000001" y2="233.0" stroke="#5a5a5a" stroke-width="0.7" />
<text x="582.4000000000001" y="238.9" font-family="'Liberation Sans', sans-serif" font-size="5.0" font-weight="normal" fill="#383838" text-anchor="middle" >8.1</text>
<line x1="587.2700000000001" y1="231.4" x2="587.2700000000001" y2="232.6" stroke="#5a5a5a" stroke-width="0.5" />
<line x1="592.14" y1="231.4" x2="592.14" y2="233.0" stroke="#5a5a5a" stroke-width="0.7" />
<text x="592.14" y="238.9" font-family="'Liberation Sans', sans-serif" font-size="5.0" font-weight="normal" fill="#383838" text-anchor="middle" >8.0</text>
<line x1="597.01" y1="231.4" x2="597.01" y2="232.6" stroke="#5a5a5a" stroke-width="0.5" />
<line x1="601.8800000000001" y1="231.4" x2="601.8800000000001" y2="233.0" stroke="#5a5a5a" stroke-width="0.7" />
<text x="601.8800000000001" y="238.9" font-family="'Liberation Sans', sans-serif" font-size="5.0" font-weight="normal" fill="#383838" text-anchor="middle" >7.9</text>
<line x1="606.75" y1="231.4" x2="606.75" y2="232.6" stroke="#5a5a5a" stroke-width="0.5" />
<line x1="611.62" y1="231.4" x2="611.62" y2="233.0" stroke="#5a5a5a" stroke-width="0.7" />
<text x="611.62" y="238.9" font-family="'Liberation Sans', sans-serif" font-size="5.0" font-weight="normal" fill="#383838" text-anchor="middle" >7.8</text>
<line x1="616.49" y1="231.4" x2="616.49" y2="232.6" stroke="#5a5a5a" stroke-width="0.5" />
<line x1="621.3600000000001" y1="231.4" x2="621.3600000000001" y2="233.0" stroke="#5a5a5a" stroke-width="0.7" />
<text x="621.3600000000001" y="238.9" font-family="'Liberation Sans', sans-serif" font-size="5.0" font-weight="normal" fill="#383838" text-anchor="middle" >7.7</text>
<line x1="626.23" y1="231.4" x2="626.23" y2="232.6" stroke="#5a5a5a" stroke-width="0.5" />
<line x1="631.1" y1="231.4" x2="631.1" y2="233.0" stroke="#5a5a5a" stroke-width="0.7" />
<text x="631.1" y="238.9" font-family="'Liberation Sans', sans-serif" font-size="5.0" font-weight="normal" fill="#383838" text-anchor="middle" >7.6</text>
<line x1="635.97" y1="231.4" x2="635.97" y2="232.6" stroke="#5a5a5a" stroke-width="0.5" />
<line x1="640.8399999999999" y1="231.4" x2="640.8399999999999" y2="233.0" stroke="#5a5a5a" stroke-width="0.7" />
<text x="640.8399999999999" y="238.9" font-family="'Liberation Sans', sans-serif" font-size="5.0" font-weight="normal" fill="#383838" text-anchor="middle" >7.5</text>
<line x1="645.71" y1="231.4" x2="645.71" y2="232.6" stroke="#5a5a5a" stroke-width="0.5" />
<line x1="650.58" y1="231.4" x2="650.58" y2="233.0" stroke="#5a5a5a" stroke-width="0.7" />
<text x="650.58" y="238.9" font-family="'Liberation Sans', sans-serif" font-size="5.0" font-weight="normal" fill="#383838" text-anchor="middle" >7.4</text>
<line x1="655.45" y1="231.4" x2="655.45" y2="232.6" stroke="#5a5a5a" stroke-width="0.5" />
<line x1="660.3200000000002" y1="231.4" x2="660.3200000000002" y2="233.0" stroke="#5a5a5a" stroke-width="0.7" />
<text x="660.3200000000002" y="238.9" font-family="'Liberation Sans', sans-serif" font-size="5.0" font-weight="normal" fill="#383838" text-anchor="middle" >7.3</text>
<line x1="665.19" y1="231.4" x2="665.19" y2="232.6" stroke="#5a5a5a" stroke-width="0.5" />
<line x1="670.0600000000001" y1="231.4" x2="670.0600000000001" y2="233.0" stroke="#5a5a5a" stroke-width="0.7" />
<text x="670.0600000000001" y="238.9" font-family="'Liberation Sans', sans-serif" font-size="5.0" font-weight="normal" fill="#383838" text-anchor="middle" >7.2</text>
<line x1="674.9300000000001" y1="231.4" x2="674.9300000000001" y2="232.6" stroke="#5a5a5a" stroke-width="0.5" />
<line x1="679.8" y1="231.4" x2="679.8" y2="233.0" stroke="#5a5a5a" stroke-width="0.7" />
<text x="679.8" y="238.9" font-family="'Liberation Sans', sans-serif" font-size="5.0" font-weight="normal" fill="#383838" text-anchor="middle" >7.1</text>
<line x1="684.6700000000001" y1="231.4" x2="684.6700000000001" y2="232.6" stroke="#5a5a5a" stroke-width="0.5" />
<line x1="689.54" y1="231.4" x2="689.54" y2="233.0" stroke="#5a5a5a" stroke-width="0.7" />
<text x="689.54" y="238.9" font-family="'Liberation Sans', sans-serif" font-size="5.0" font-weight="normal" fill="#383838" text-anchor="middle" >7.0</text>
<line x1="694.41" y1="231.4" x2="694.41" y2="232.6" stroke="#5a5a5a" stroke-width="0.5" />
<line x1="699.28" y1="231.4" x2="699.28" y2="233.0" stroke="#5a5a5a" stroke-width="0.7" />
<text x="699.28" y="238.9" font-family="'Liberation Sans', sans-serif" font-size="5.0" font-weight="normal" fill="#383838" text-anchor="middle" >6.9</text>
<line x1="704.1500000000001" y1="231.4" x2="704.1500000000001" y2="232.6" stroke="#5a5a5a" stroke-width="0.5" />
<line x1="709.0200000000001" y1="231.4" x2="709.0200000000001" y2="233.0" stroke="#5a5a5a" stroke-width="0.7" />
<text x="709.0200000000001" y="238.9" font-family="'Liberation Sans', sans-serif" font-size="5.0" font-weight="normal" fill="#383838" text-anchor="middle" >6.8</text>
<line x1="713.8900000000001" y1="231.4" x2="713.8900000000001" y2="232.6" stroke="#5a5a5a" stroke-width="0.5" />
<line x1="718.76" y1="231.4" x2="718.76" y2="233.0" stroke="#5a5a5a" stroke-width="0.7" />
<text x="718.76" y="238.9" font-family="'Liberation Sans', sans-serif" font-size="5.0" font-weight="normal" fill="#383838" text-anchor="middle" >6.7</text>
<line x1="723.6300000000001" y1="231.4" x2="723.6300000000001" y2="232.6" stroke="#5a5a5a" stroke-width="0.5" />
<line x1="728.5" y1="231.4" x2="728.5" y2="233.0" stroke="#5a5a5a" stroke-width="0.7" />
<text x="728.5" y="238.9" font-family="'Liberation Sans', sans-serif" font-size="5.0" font-weight="normal" fill="#383838" text-anchor="middle" >6.6</text>
<line x1="733.37" y1="231.4" x2="733.37" y2="232.6" stroke="#5a5a5a" stroke-width="0.5" />
<line x1="738.24" y1="231.4" x2="738.24" y2="233.0" stroke="#5a5a5a" stroke-width="0.7" />
<text x="738.24" y="238.9" font-family="'Liberation Sans', sans-serif" font-size="5.0" font-weight="normal" fill="#383838" text-anchor="middle" >6.5</text>
<line x1="743.1099999999999" y1="231.4" x2="743.1099999999999" y2="232.6" stroke="#5a5a5a" stroke-width="0.5" />
<line x1="747.98" y1="231.4" x2="747.98" y2="233.0" stroke="#5a5a5a" stroke-width="0.7" />
<text x="747.98" y="238.9" font-family="'Liberation Sans', sans-serif" font-size="5.0" font-weight="normal" fill="#383838" text-anchor="middle" >6.4</text>
<text x="595.0" y="243.5" font-family="'Liberation Sans', sans-serif" font-size="4.9" font-weight="normal" fill="#555" text-anchor="middle" >f2 (ppm)</text>
<text x="0" y="0" font-family="'Liberation Sans', sans-serif" font-size="4.6" font-weight="normal" fill="#555" text-anchor="middle" transform="translate(783.6,132) rotate(-90)">f1 (ppm)</text>
<g id="contA">
<ellipse cx="75.40" cy="97.20" rx="7.8" ry="5.0" transform="rotate(0 75.40 97.20)" stroke="#f5ca2c" stroke-width="1.9" fill="none" opacity="1"/>
<ellipse cx="72.00" cy="97.60" rx="2.6" ry="3.0" transform="rotate(0 72.00 97.60)" stroke="#f5ca2c" stroke-width="1.5" fill="#fbe690" opacity="1"/>
<ellipse cx="79.40" cy="96.80" rx="2.8" ry="2.6" transform="rotate(0 79.40 96.80)" stroke="#f5ca2c" stroke-width="1.3" fill="none" opacity="1"/>
<path d="M78,113.6 A5,3.6 0 1 0 78,120.2" stroke="#f5ca2c" stroke-width="2.0" fill="none"/>
<ellipse cx="76.20" cy="116.90" rx="4.6" ry="3.3" transform="rotate(0 76.20 116.90)" stroke="#f7d350" stroke-width="0.9" fill="none" opacity="1"/>
<ellipse cx="78.00" cy="116.40" rx="1.9" ry="1.4" transform="rotate(0 78.00 116.40)" stroke="#f5ca2c" stroke-width="1.0" fill="none" opacity="1"/>
<ellipse cx="72.10" cy="180.32" rx="2.1014737592308483" ry="1.596158699061372" transform="rotate(91.41142915120881 72.10 180.32)" stroke="#f8dc74" stroke-width="0.8" fill="none" opacity="1"/>
<ellipse cx="72.41" cy="176.20" rx="1.5654812307543473" ry="1.304745986149044" transform="rotate(142.73583705359147 72.41 176.20)" stroke="#f8dc74" stroke-width="0.8" fill="none" opacity="1"/>
<ellipse cx="66.18" cy="180.36" rx="1.0178716987393912" ry="0.9306808502137872" transform="rotate(124.81892685742304 66.18 180.36)" stroke="#f8dc74" stroke-width="0.8" fill="none" opacity="1"/>
<ellipse cx="79.44" cy="177.89" rx="1.7002315159521422" ry="1.0556267246338293" transform="rotate(2.7001326509288837 79.44 177.89)" stroke="#f8dc74" stroke-width="0.8" fill="none" opacity="1"/>
<ellipse cx="71.10" cy="175.49" rx="1.147270741637308" ry="0.7559072712252647" transform="rotate(5.414866060461943 71.10 175.49)" stroke="#f8dc74" stroke-width="0.8" fill="none" opacity="1"/>
<ellipse cx="71.77" cy="179.21" rx="1.9951552670740917" ry="1.5634153422172758" transform="rotate(115.25250742545188 71.77 179.21)" stroke="#f8dc74" stroke-width="0.8" fill="none" opacity="1"/>
<ellipse cx="73.16" cy="180.91" rx="1.494528846079425" ry="1.0090659801992323" transform="rotate(179.57811608335518 73.16 180.91)" stroke="#f8dc74" stroke-width="0.8" fill="none" opacity="1"/>
<ellipse cx="74.58" cy="176.58" rx="1.1985656720902773" ry="0.8151061310707659" transform="rotate(12.640229920786663 74.58 176.58)" stroke="#f8dc74" stroke-width="0.8" fill="none" opacity="1"/>
<ellipse cx="75.72" cy="176.95" rx="2.0005587084455323" ry="1.4482666449488983" transform="rotate(172.44762899756643 75.72 176.95)" stroke="#f8dc74" stroke-width="0.8" fill="none" opacity="1"/>
<ellipse cx="74.04" cy="183.87" rx="1.4166517045030655" ry="0.8257198899054262" transform="rotate(113.30188420212436 74.04 183.87)" stroke="#f8dc74" stroke-width="0.8" fill="none" opacity="1"/>
<ellipse cx="75.35" cy="175.73" rx="1.0132874578578213" ry="0.7089602811474158" transform="rotate(173.53371898687755 75.35 175.73)" stroke="#f8dc74" stroke-width="0.8" fill="none" opacity="1"/>
<ellipse cx="74.46" cy="174.54" rx="1.220304333561069" ry="0.726655645378186" transform="rotate(10.780812529393806 74.46 174.54)" stroke="#f8dc74" stroke-width="0.8" fill="none" opacity="1"/>
<ellipse cx="75.23" cy="174.81" rx="1.6270836840935134" ry="1.2224949993691854" transform="rotate(34.32319475226589 75.23 174.81)" stroke="#f8dc74" stroke-width="0.8" fill="none" opacity="1"/>
<ellipse cx="74.16" cy="174.82" rx="1.7368296608245175" ry="1.0463158513485122" transform="rotate(75.73601110435577 74.16 174.82)" stroke="#f8dc74" stroke-width="0.8" fill="none" opacity="1"/>
<ellipse cx="67.66" cy="179.32" rx="2.1622077730842992" ry="1.9709284438235926" transform="rotate(54.746126976778115 67.66 179.32)" stroke="#f8dc74" stroke-width="0.8" fill="none" opacity="1"/>
<ellipse cx="76.56" cy="174.54" rx="1.4125570281936708" ry="1.3199916092575017" transform="rotate(115.53041818628289 76.56 174.54)" stroke="#f8dc74" stroke-width="0.8" fill="none" opacity="1"/>
<ellipse cx="67.62" cy="179.21" rx="1.9044965967046705" ry="1.3293956479780038" transform="rotate(53.33845726781034 67.62 179.21)" stroke="#f8dc74" stroke-width="0.8" fill="none" opacity="1"/>
<ellipse cx="72.58" cy="176.74" rx="1.6816689966565206" ry="1.2062053751505075" transform="rotate(81.57745885029281 72.58 176.74)" stroke="#f8dc74" stroke-width="0.8" fill="none" opacity="1"/>
<ellipse cx="78.68" cy="176.45" rx="1.6469426190589318" ry="1.5480215642478043" transform="rotate(32.90898884016333 78.68 176.45)" stroke="#f8dc74" stroke-width="0.8" fill="none" opacity="1"/>
<ellipse cx="75.80" cy="175.31" rx="1.1467408657522382" ry="1.0122751503852312" transform="rotate(169.27288129707884 75.80 175.31)" stroke="#f8dc74" stroke-width="0.8" fill="none" opacity="1"/>
<ellipse cx="78.12" cy="177.98" rx="1.4478943911315654" ry="0.8639989166236998" transform="rotate(6.965364904880877 78.12 177.98)" stroke="#f8dc74" stroke-width="0.8" fill="none" opacity="1"/>
<ellipse cx="74.30" cy="176.09" rx="1.9708332007845586" ry="1.6129492804578487" transform="rotate(52.81836236725268 74.30 176.09)" stroke="#f8dc74" stroke-width="0.8" fill="none" opacity="1"/>
<ellipse cx="72.00" cy="180.00" rx="6.8" ry="4.4" transform="rotate(-25 72.00 180.00)" stroke="#f8dc74" stroke-width="1.0" fill="none" opacity="1"/>
<ellipse cx="80.40" cy="177.04" rx="0.7618985117506992" ry="0.4973508547366802" transform="rotate(100.68594170832162 80.40 177.04)" stroke="#f8dc74" stroke-width="0.7" fill="none" opacity="1"/>
<ellipse cx="87.05" cy="175.72" rx="0.9521974533137696" ry="0.9167872109020162" transform="rotate(36.71619828654319 87.05 175.72)" stroke="#f8dc74" stroke-width="0.7" fill="none" opacity="1"/>
<ellipse cx="82.74" cy="174.31" rx="0.8586283978355355" ry="0.6147379350781087" transform="rotate(102.99049612247735 82.74 174.31)" stroke="#f8dc74" stroke-width="0.7" fill="none" opacity="1"/>
<ellipse cx="79.78" cy="175.82" rx="1.5018462069728313" ry="1.488663060444448" transform="rotate(118.24776837172297 79.78 175.82)" stroke="#f8dc74" stroke-width="0.7" fill="none" opacity="1"/>
<ellipse cx="85.44" cy="175.83" rx="0.826312468431056" ry="0.46751622580480423" transform="rotate(3.2209554721617617 85.44 175.83)" stroke="#f8dc74" stroke-width="0.7" fill="none" opacity="1"/>
<ellipse cx="87.66" cy="175.95" rx="1.566493912266103" ry="0.8765577197063087" transform="rotate(114.51321388386232 87.66 175.95)" stroke="#f8dc74" stroke-width="0.7" fill="none" opacity="1"/>
<ellipse cx="83.44" cy="176.65" rx="0.9870140412669273" ry="0.9867287269655011" transform="rotate(13.547322016629103 83.44 176.65)" stroke="#f8dc74" stroke-width="0.7" fill="none" opacity="1"/>
<ellipse cx="55.80" cy="186.40" rx="0.7" ry="1.0" transform="rotate(0 55.80 186.40)" stroke="#f8dc74" stroke-width="0.8" fill="none" opacity="1"/>
<ellipse cx="106.50" cy="168.80" rx="1.3" ry="1.9" transform="rotate(20 106.50 168.80)" stroke="#f8dc74" stroke-width="0.8" fill="none" opacity="1"/>
<ellipse cx="110.80" cy="166.60" rx="0.7" ry="0.7" transform="rotate(0 110.80 166.60)" stroke="#f8dc74" stroke-width="0.8" fill="none" opacity="1"/>
<ellipse cx="113.90" cy="165.80" rx="0.6" ry="0.6" transform="rotate(0 113.90 165.80)" stroke="#f8dc74" stroke-width="0.8" fill="none" opacity="1"/>
<ellipse cx="119.00" cy="164.60" rx="0.5" ry="0.5" transform="rotate(0 119.00 164.60)" stroke="#f8dc74" stroke-width="0.7" fill="none" opacity="1"/>
<ellipse cx="135.00" cy="157.50" rx="2.8" ry="2.0" transform="rotate(-20 135.00 157.50)" stroke="#f6cf40" stroke-width="0.9" fill="none" opacity="1"/>
<ellipse cx="139.80" cy="156.60" rx="2.6" ry="2.0" transform="rotate(-20 139.80 156.60)" stroke="#f6cf40" stroke-width="0.9" fill="none" opacity="1"/>
<ellipse cx="137.40" cy="157.00" rx="1.0" ry="0.8" transform="rotate(0 137.40 157.00)" stroke="#f8dc74" stroke-width="0.7" fill="none" opacity="1"/>
<ellipse cx="130.50" cy="158.80" rx="0.6" ry="0.6" transform="rotate(0 130.50 158.80)" stroke="#f8dc74" stroke-width="0.7" fill="none" opacity="1"/>
<ellipse cx="189.00" cy="139.50" rx="1.1" ry="1.1" transform="rotate(0 189.00 139.50)" stroke="#f8dc74" stroke-width="0.8" fill="none" opacity="1"/>
<ellipse cx="193.50" cy="138.00" rx="0.8" ry="0.8" transform="rotate(0 193.50 138.00)" stroke="#f8dc74" stroke-width="0.8" fill="none" opacity="1"/>
<ellipse cx="139.50" cy="94.00" rx="0.5" ry="1.2" transform="rotate(0 139.50 94.00)" stroke="#f6cf40" stroke-width="0.8" fill="none" opacity="1"/>
<ellipse cx="205.00" cy="133.60" rx="1.6" ry="1.2" transform="rotate(-20 205.00 133.60)" stroke="#f8dc74" stroke-width="0.85" fill="none" opacity="1"/>
<ellipse cx="210.00" cy="131.40" rx="1.6" ry="1.2" transform="rotate(-20 210.00 131.40)" stroke="#f8dc74" stroke-width="0.85" fill="none" opacity="1"/>
<ellipse cx="214.30" cy="130.70" rx="1.6" ry="1.2" transform="rotate(-20 214.30 130.70)" stroke="#f8dc74" stroke-width="0.85" fill="none" opacity="1"/>
<ellipse cx="219.50" cy="128.50" rx="1.6" ry="1.2" transform="rotate(-20 219.50 128.50)" stroke="#f8dc74" stroke-width="0.85" fill="none" opacity="1"/>
<ellipse cx="222.30" cy="127.40" rx="1.6" ry="1.2" transform="rotate(-20 222.30 127.40)" stroke="#f8dc74" stroke-width="0.85" fill="none" opacity="1"/>
<ellipse cx="225.20" cy="126.50" rx="1.6" ry="1.2" transform="rotate(-20 225.20 126.50)" stroke="#f8dc74" stroke-width="0.85" fill="none" opacity="1"/>
<ellipse cx="228.30" cy="125.30" rx="1.6" ry="1.2" transform="rotate(-20 228.30 125.30)" stroke="#f8dc74" stroke-width="0.85" fill="none" opacity="1"/>
<ellipse cx="231.30" cy="124.30" rx="1.6" ry="1.2" transform="rotate(-20 231.30 124.30)" stroke="#f8dc74" stroke-width="0.85" fill="none" opacity="1"/>
<ellipse cx="235.70" cy="122.90" rx="1.6" ry="1.2" transform="rotate(-20 235.70 122.90)" stroke="#f8dc74" stroke-width="0.85" fill="none" opacity="1"/>
<ellipse cx="240.00" cy="121.20" rx="1.6" ry="1.2" transform="rotate(-20 240.00 121.20)" stroke="#f8dc74" stroke-width="0.85" fill="none" opacity="1"/>
<ellipse cx="244.00" cy="119.60" rx="1.6" ry="1.2" transform="rotate(-20 244.00 119.60)" stroke="#f8dc74" stroke-width="0.85" fill="none" opacity="1"/>
<ellipse cx="247.50" cy="118.40" rx="1.6" ry="1.2" transform="rotate(-20 247.50 118.40)" stroke="#f8dc74" stroke-width="0.85" fill="none" opacity="1"/>
<ellipse cx="196.00" cy="137.50" rx="0.5" ry="0.5" transform="rotate(0 196.00 137.50)" stroke="#f8dc74" stroke-width="0.7" fill="none" opacity="1"/>
<ellipse cx="244.50" cy="94.50" rx="2.6" ry="2.2" transform="rotate(2.7657215451192343 244.50 94.50)" stroke="#f6cf40" stroke-width="1.0" fill="none" opacity="1"/>
<ellipse cx="249.00" cy="92.50" rx="2.8" ry="2.0" transform="rotate(14.220329691975536 249.00 92.50)" stroke="#f6cf40" stroke-width="1.0" fill="none" opacity="1"/>
<ellipse cx="254.00" cy="93.00" rx="2.6" ry="2.2" transform="rotate(24.01175287496274 254.00 93.00)" stroke="#f6cf40" stroke-width="1.0" fill="none" opacity="1"/>
<ellipse cx="259.00" cy="94.00" rx="2.4" ry="2.4" transform="rotate(14.225288064993599 259.00 94.00)" stroke="#f6cf40" stroke-width="1.0" fill="none" opacity="1"/>
<ellipse cx="261.50" cy="98.00" rx="1.6" ry="2.2" transform="rotate(12.221437154506638 261.50 98.00)" stroke="#f6cf40" stroke-width="1.0" fill="none" opacity="1"/>
<ellipse cx="245.50" cy="99.50" rx="2.2" ry="2.4" transform="rotate(17.59600056560904 245.50 99.50)" stroke="#f6cf40" stroke-width="1.0" fill="none" opacity="1"/>
<ellipse cx="250.00" cy="98.50" rx="2.0" ry="2.6" transform="rotate(24.900154773122402 250.00 98.50)" stroke="#f6cf40" stroke-width="1.0" fill="none" opacity="1"/>
<ellipse cx="257.50" cy="100.00" rx="2.2" ry="2.8" transform="rotate(-8.889954201164777 257.50 100.00)" stroke="#f6cf40" stroke-width="1.0" fill="none" opacity="1"/>
<ellipse cx="251.50" cy="104.00" rx="2.2" ry="2.6" transform="rotate(11.10875732002188 251.50 104.00)" stroke="#f6cf40" stroke-width="1.0" fill="none" opacity="1"/>
<ellipse cx="256.50" cy="105.50" rx="2.2" ry="2.8" transform="rotate(24.05015635982273 256.50 105.50)" stroke="#f6cf40" stroke-width="1.0" fill="none" opacity="1"/>
<ellipse cx="250.50" cy="109.50" rx="2.4" ry="2.4" transform="rotate(22.266075547320654 250.50 109.50)" stroke="#f6cf40" stroke-width="1.0" fill="none" opacity="1"/>
<ellipse cx="256.00" cy="111.00" rx="2.6" ry="2.4" transform="rotate(-4.970811481368841 256.00 111.00)" stroke="#f6cf40" stroke-width="1.0" fill="none" opacity="1"/>
<ellipse cx="259.50" cy="107.50" rx="1.4" ry="1.8" transform="rotate(17.431920035303975 259.50 107.50)" stroke="#f6cf40" stroke-width="1.0" fill="none" opacity="1"/>
<ellipse cx="246.00" cy="96.50" rx="1.0" ry="0.8" transform="rotate(0 246.00 96.50)" stroke="#f6cf40" stroke-width="0.8" fill="none" opacity="1"/>
<ellipse cx="252.00" cy="95.50" rx="1.0" ry="1.2" transform="rotate(0 252.00 95.50)" stroke="#f6cf40" stroke-width="0.8" fill="none" opacity="1"/>
<ellipse cx="255.00" cy="102.00" rx="0.8" ry="1.0" transform="rotate(0 255.00 102.00)" stroke="#f6cf40" stroke-width="0.8" fill="none" opacity="1"/>
<ellipse cx="253.00" cy="108.00" rx="0.8" ry="1.0" transform="rotate(0 253.00 108.00)" stroke="#f6cf40" stroke-width="0.8" fill="none" opacity="1"/>
<ellipse cx="255.18" cy="115.73" rx="1.8249605466594194" ry="1.317712922048382" transform="rotate(104.88220052600272 255.18 115.73)" stroke="#f8dc74" stroke-width="0.8" fill="none" opacity="1"/>
<ellipse cx="251.17" cy="113.54" rx="1.8394043126373019" ry="1.8338768744241074" transform="rotate(158.36252923998484 251.17 113.54)" stroke="#f8dc74" stroke-width="0.8" fill="none" opacity="1"/>
<ellipse cx="253.18" cy="115.04" rx="1.9350381515484787" ry="1.5701456764162907" transform="rotate(79.29404916816951 253.18 115.04)" stroke="#f8dc74" stroke-width="0.8" fill="none" opacity="1"/>
<ellipse cx="251.74" cy="116.04" rx="1.430221643726496" ry="1.236069922207492" transform="rotate(89.50510397844243 251.74 116.04)" stroke="#f8dc74" stroke-width="0.8" fill="none" opacity="1"/>
<ellipse cx="252.63" cy="118.71" rx="1.4558302201063815" ry="0.808114237907052" transform="rotate(54.185875399259224 252.63 118.71)" stroke="#f8dc74" stroke-width="0.8" fill="none" opacity="1"/>
<ellipse cx="252.24" cy="114.06" rx="1.3696071531904583" ry="1.3115011861804282" transform="rotate(118.79820084165229 252.24 114.06)" stroke="#f8dc74" stroke-width="0.8" fill="none" opacity="1"/>
<ellipse cx="250.42" cy="119.12" rx="1.526960618829408" ry="1.2973890804281263" transform="rotate(35.73104019575687 250.42 119.12)" stroke="#f8dc74" stroke-width="0.8" fill="none" opacity="1"/>
<ellipse cx="250.14" cy="118.62" rx="2.1142211988590054" ry="2.0003091026614475" transform="rotate(69.19536292198254 250.14 118.62)" stroke="#f8dc74" stroke-width="0.8" fill="none" opacity="1"/>
<ellipse cx="222.40" cy="88.30" rx="1.8" ry="1.1" transform="rotate(0 222.40 88.30)" stroke="#f8dc74" stroke-width="0.8" fill="none" opacity="1"/>
<ellipse cx="227.30" cy="68.80" rx="1.5" ry="1.5" transform="rotate(0 227.30 68.80)" stroke="#f8dc74" stroke-width="0.8" fill="none" opacity="1"/>
<ellipse cx="230.30" cy="68.80" rx="1.5" ry="1.5" transform="rotate(0 230.30 68.80)" stroke="#f8dc74" stroke-width="0.8" fill="none" opacity="1"/>
<ellipse cx="268.00" cy="91.80" rx="1.5" ry="1.7" transform="rotate(0 268.00 91.80)" stroke="#f8dc74" stroke-width="0.8" fill="none" opacity="1"/>
<ellipse cx="272.40" cy="91.60" rx="1.5" ry="1.7" transform="rotate(0 272.40 91.60)" stroke="#f8dc74" stroke-width="0.8" fill="none" opacity="1"/>
<ellipse cx="275.50" cy="93.50" rx="0.5" ry="0.5" transform="rotate(0 275.50 93.50)" stroke="#f8dc74" stroke-width="0.7" fill="none" opacity="1"/>
<path d="M256.00,114.00 L257.87,114.58 L259.45,114.34 L260.99,114.02 L262.52,113.65 L264.03,113.25 L265.54,112.83 L267.04,112.39 L268.53,111.94 L270.03,111.47 L271.51,110.99 L272.99,110.50 L274.47,110.00 L275.95,109.49 L277.42,108.97 L278.89,108.44 L280.35,107.91 L281.82,107.36 L283.27,106.80 L284.73,106.23 L286.18,105.66 L287.63,105.07 L289.07,104.47 L290.51,103.86 L291.94,103.23 L293.36,102.58 L294.78,101.92 L296.19,101.22 L297.58,100.48 L298.94,99.64 L300.00,98.00 L300.00,98.00 L298.13,97.42 L296.55,97.66 L295.01,97.98 L293.48,98.35 L291.97,98.75 L290.46,99.17 L288.96,99.61 L287.47,100.06 L285.97,100.53 L284.49,101.01 L283.01,101.50 L281.53,102.00 L280.05,102.51 L278.58,103.03 L277.11,103.56 L275.65,104.09 L274.18,104.64 L272.73,105.20 L271.27,105.77 L269.82,106.34 L268.37,106.93 L266.93,107.53 L265.49,108.14 L264.06,108.77 L262.64,109.42 L261.22,110.08 L259.81,110.78 L258.42,111.52 L257.06,112.36 L256.00,114.00 Z" stroke="#f8dc74" stroke-width="0.9" fill="none" opacity="1" stroke-linejoin="round"/>
<ellipse cx="262.00" cy="112.00" rx="1.8" ry="1.0" transform="rotate(-20 262.00 112.00)" stroke="#f8dc74" stroke-width="0.7" fill="none" opacity="1"/>
<ellipse cx="266.12" cy="110.50" rx="1.8" ry="1.0" transform="rotate(-20 266.12 110.50)" stroke="#f8dc74" stroke-width="0.7" fill="none" opacity="1"/>
<ellipse cx="270.25" cy="109.00" rx="1.8" ry="1.0" transform="rotate(-20 270.25 109.00)" stroke="#f8dc74" stroke-width="0.7" fill="none" opacity="1"/>
<ellipse cx="274.38" cy="107.50" rx="1.8" ry="1.0" transform="rotate(-20 274.38 107.50)" stroke="#f8dc74" stroke-width="0.7" fill="none" opacity="1"/>
<ellipse cx="278.50" cy="106.00" rx="1.8" ry="1.0" transform="rotate(-20 278.50 106.00)" stroke="#f8dc74" stroke-width="0.7" fill="none" opacity="1"/>
<ellipse cx="282.62" cy="104.50" rx="1.8" ry="1.0" transform="rotate(-20 282.62 104.50)" stroke="#f8dc74" stroke-width="0.7" fill="none" opacity="1"/>
<ellipse cx="286.75" cy="103.00" rx="1.8" ry="1.0" transform="rotate(-20 286.75 103.00)" stroke="#f8dc74" stroke-width="0.7" fill="none" opacity="1"/>
<ellipse cx="290.88" cy="101.50" rx="1.8" ry="1.0" transform="rotate(-20 290.88 101.50)" stroke="#f8dc74" stroke-width="0.7" fill="none" opacity="1"/>
<ellipse cx="295.00" cy="100.00" rx="1.8" ry="1.0" transform="rotate(-20 295.00 100.00)" stroke="#f8dc74" stroke-width="0.7" fill="none" opacity="1"/>
<ellipse cx="303.50" cy="83.50" rx="1.8" ry="2.0" transform="rotate(4.986431265236469 303.50 83.50)" stroke="#f8dc74" stroke-width="0.85" fill="none" opacity="1"/>
<ellipse cx="306.50" cy="86.00" rx="2.0" ry="1.8" transform="rotate(-11.010789330351706 306.50 86.00)" stroke="#f8dc74" stroke-width="0.85" fill="none" opacity="1"/>
<ellipse cx="302.50" cy="88.50" rx="2.2" ry="2.0" transform="rotate(-21.82942041700211 302.50 88.50)" stroke="#f8dc74" stroke-width="0.85" fill="none" opacity="1"/>
<ellipse cx="307.00" cy="91.00" rx="2.2" ry="2.2" transform="rotate(-0.21197750386068392 307.00 91.00)" stroke="#f8dc74" stroke-width="0.85" fill="none" opacity="1"/>
<ellipse cx="303.00" cy="93.50" rx="2.4" ry="2.0" transform="rotate(20.22573704823236 303.00 93.50)" stroke="#f8dc74" stroke-width="0.85" fill="none" opacity="1"/>
<ellipse cx="308.50" cy="95.00" rx="1.6" ry="1.8" transform="rotate(20.923218298214273 308.50 95.00)" stroke="#f8dc74" stroke-width="0.85" fill="none" opacity="1"/>
<ellipse cx="299.50" cy="96.50" rx="2.0" ry="1.8" transform="rotate(12.673065691056408 299.50 96.50)" stroke="#f8dc74" stroke-width="0.85" fill="none" opacity="1"/>
<ellipse cx="296.35" cy="99.20" rx="1.1476465406504175" ry="0.7417654692752231" transform="rotate(74.51726413412882 296.35 99.20)" stroke="#f6cf40" stroke-width="0.85" fill="none" opacity="1"/>
<ellipse cx="300.01" cy="99.46" rx="1.1838344808269212" ry="1.0981287540241695" transform="rotate(176.7665710483472 300.01 99.46)" stroke="#f6cf40" stroke-width="0.85" fill="none" opacity="1"/>
<ellipse cx="298.62" cy="96.95" rx="0.9283371981256555" ry="0.8752113144111474" transform="rotate(7.467911855025944 298.62 96.95)" stroke="#f6cf40" stroke-width="0.85" fill="none" opacity="1"/>
<ellipse cx="300.67" cy="99.92" rx="1.1781273162689636" ry="1.0675966894486235" transform="rotate(3.4405226661070887 300.67 99.92)" stroke="#f6cf40" stroke-width="0.85" fill="none" opacity="1"/>
<ellipse cx="296.09" cy="99.23" rx="0.9222538574955748" ry="0.85156383297755" transform="rotate(42.73362159927017 296.09 99.23)" stroke="#f6cf40" stroke-width="0.85" fill="none" opacity="1"/>
<ellipse cx="300.03" cy="99.18" rx="1.4669678127903671" ry="1.2392494724261514" transform="rotate(145.32928397031841 300.03 99.18)" stroke="#f6cf40" stroke-width="0.85" fill="none" opacity="1"/>
<ellipse cx="304.50" cy="102.50" rx="2.2" ry="2.2" transform="rotate(0 304.50 102.50)" stroke="#f8dc74" stroke-width="0.8" fill="none" opacity="1"/>
<ellipse cx="305.00" cy="107.00" rx="2.0" ry="2.4" transform="rotate(0 305.00 107.00)" stroke="#f8dc74" stroke-width="0.8" fill="none" opacity="1"/>
<ellipse cx="304.00" cy="111.00" rx="2.0" ry="1.8" transform="rotate(0 304.00 111.00)" stroke="#f8dc74" stroke-width="0.8" fill="none" opacity="1"/>
<ellipse cx="304.50" cy="97.80" rx="3.4" ry="2.6" transform="rotate(0 304.50 97.80)" stroke="#f4c8a8" stroke-width="1.0" fill="#fbe8d8" opacity="1"/>
<ellipse cx="304.50" cy="97.80" rx="1.4" ry="1.0" transform="rotate(0 304.50 97.80)" stroke="#f0c0a0" stroke-width="0.7" fill="none" opacity="1"/>
<ellipse cx="298.50" cy="111.50" rx="2.0" ry="1.8" transform="rotate(27.507639115140613 298.50 111.50)" stroke="#f6cf40" stroke-width="0.9" fill="none" opacity="1"/>
<ellipse cx="303.00" cy="110.50" rx="2.2" ry="2.0" transform="rotate(11.06956475885972 303.00 110.50)" stroke="#f6cf40" stroke-width="0.9" fill="none" opacity="1"/>
<ellipse cx="307.00" cy="112.50" rx="1.8" ry="2.0" transform="rotate(-18.039514650178937 307.00 112.50)" stroke="#f6cf40" stroke-width="0.9" fill="none" opacity="1"/>
<ellipse cx="299.50" cy="116.00" rx="2.4" ry="2.2" transform="rotate(-1.4914618778040065 299.50 116.00)" stroke="#f6cf40" stroke-width="0.9" fill="none" opacity="1"/>
<ellipse cx="305.00" cy="117.00" rx="2.4" ry="2.4" transform="rotate(-19.278834291894924 305.00 117.00)" stroke="#f6cf40" stroke-width="0.9" fill="none" opacity="1"/>
<ellipse cx="301.00" cy="120.50" rx="2.2" ry="1.8" transform="rotate(-29.353999903030264 301.00 120.50)" stroke="#f6cf40" stroke-width="0.9" fill="none" opacity="1"/>
<ellipse cx="306.50" cy="121.00" rx="1.8" ry="1.6" transform="rotate(-1.668029784478911 306.50 121.00)" stroke="#f6cf40" stroke-width="0.9" fill="none" opacity="1"/>
<ellipse cx="303.00" cy="118.00" rx="2.2" ry="1.6" transform="rotate(0 303.00 118.00)" stroke="#eea088" stroke-width="1.0" fill="none" opacity="1"/>
<path d="M309.50,96.20 L311.75,98.02 L313.42,98.14 L314.87,97.64 L316.33,97.14 L317.79,96.65 L319.25,96.15 L320.70,95.65 L322.16,95.15 L323.62,94.66 L325.08,94.16 L326.53,93.66 L327.99,93.16 L329.45,92.67 L330.91,92.17 L332.36,91.67 L333.82,91.17 L335.28,90.68 L336.74,90.18 L338.19,89.68 L339.65,89.18 L341.11,88.69 L342.57,88.19 L344.02,87.69 L345.48,87.19 L346.94,86.70 L348.40,86.20 L349.85,85.70 L351.31,85.20 L352.77,84.71 L354.23,84.21 L355.68,83.71 L357.14,83.21 L358.60,82.72 L360.06,82.22 L361.51,81.72 L362.97,81.22 L364.43,80.73 L365.89,80.23 L367.14,79.14 L368.60,78.65 L367.00,73.95 L365.54,74.45 L363.88,74.36 L362.43,74.86 L360.97,75.36 L359.51,75.85 L358.05,76.35 L356.60,76.85 L355.14,77.35 L353.68,77.84 L352.22,78.34 L350.77,78.84 L349.31,79.34 L347.85,79.83 L346.39,80.33 L344.94,80.83 L343.48,81.33 L342.02,81.82 L340.56,82.32 L339.11,82.82 L337.65,83.32 L336.19,83.81 L334.73,84.31 L333.28,84.81 L331.82,85.31 L330.36,85.80 L328.90,86.30 L327.45,86.80 L325.99,87.30 L324.53,87.79 L323.07,88.29 L321.62,88.79 L320.16,89.29 L318.70,89.78 L317.24,90.28 L315.79,90.78 L314.33,91.28 L312.87,91.77 L311.41,92.27 L310.17,93.38 L309.50,96.20 Z" stroke="#f8dc74" stroke-width="1.0" fill="#fffdf0" opacity="1" stroke-linejoin="round"/>
<ellipse cx="312.00" cy="95.20" rx="1.5" ry="1.0" transform="rotate(-19 312.00 95.20)" stroke="#f8dc74" stroke-width="0.7" fill="none" opacity="1"/>
<ellipse cx="312.90" cy="92.50" rx="1.2" ry="0.8" transform="rotate(-19 312.90 92.50)" stroke="#f8dc74" stroke-width="0.6" fill="none" opacity="1"/>
<ellipse cx="311.10" cy="97.90" rx="1.2" ry="0.8" transform="rotate(-19 311.10 97.90)" stroke="#f8dc74" stroke-width="0.6" fill="none" opacity="1"/>
<ellipse cx="314.84" cy="94.23" rx="1.5" ry="1.0" transform="rotate(-19 314.84 94.23)" stroke="#f8dc74" stroke-width="0.7" fill="none" opacity="1"/>
<ellipse cx="315.74" cy="91.53" rx="1.2" ry="0.8" transform="rotate(-19 315.74 91.53)" stroke="#f8dc74" stroke-width="0.6" fill="none" opacity="1"/>
<ellipse cx="313.94" cy="96.93" rx="1.2" ry="0.8" transform="rotate(-19 313.94 96.93)" stroke="#f8dc74" stroke-width="0.6" fill="none" opacity="1"/>
<ellipse cx="317.68" cy="93.26" rx="1.5" ry="1.0" transform="rotate(-19 317.68 93.26)" stroke="#f8dc74" stroke-width="0.7" fill="none" opacity="1"/>
<ellipse cx="318.58" cy="90.56" rx="1.2" ry="0.8" transform="rotate(-19 318.58 90.56)" stroke="#f8dc74" stroke-width="0.6" fill="none" opacity="1"/>
<ellipse cx="316.78" cy="95.96" rx="1.2" ry="0.8" transform="rotate(-19 316.78 95.96)" stroke="#f8dc74" stroke-width="0.6" fill="none" opacity="1"/>
<ellipse cx="320.53" cy="92.29" rx="1.5" ry="1.0" transform="rotate(-19 320.53 92.29)" stroke="#f8dc74" stroke-width="0.7" fill="none" opacity="1"/>
<ellipse cx="321.43" cy="89.59" rx="1.2" ry="0.8" transform="rotate(-19 321.43 89.59)" stroke="#f8dc74" stroke-width="0.6" fill="none" opacity="1"/>
<ellipse cx="319.63" cy="94.99" rx="1.2" ry="0.8" transform="rotate(-19 319.63 94.99)" stroke="#f8dc74" stroke-width="0.6" fill="none" opacity="1"/>
<ellipse cx="323.37" cy="91.33" rx="1.5" ry="1.0" transform="rotate(-19 323.37 91.33)" stroke="#f8dc74" stroke-width="0.7" fill="none" opacity="1"/>
<ellipse cx="324.27" cy="88.63" rx="1.2" ry="0.8" transform="rotate(-19 324.27 88.63)" stroke="#f8dc74" stroke-width="0.6" fill="none" opacity="1"/>
<ellipse cx="322.47" cy="94.03" rx="1.2" ry="0.8" transform="rotate(-19 322.47 94.03)" stroke="#f8dc74" stroke-width="0.6" fill="none" opacity="1"/>
<ellipse cx="326.21" cy="90.36" rx="1.5" ry="1.0" transform="rotate(-19 326.21 90.36)" stroke="#f8dc74" stroke-width="0.7" fill="none" opacity="1"/>
<ellipse cx="327.11" cy="87.66" rx="1.2" ry="0.8" transform="rotate(-19 327.11 87.66)" stroke="#f8dc74" stroke-width="0.6" fill="none" opacity="1"/>
<ellipse cx="325.31" cy="93.06" rx="1.2" ry="0.8" transform="rotate(-19 325.31 93.06)" stroke="#f8dc74" stroke-width="0.6" fill="none" opacity="1"/>
<ellipse cx="329.05" cy="89.39" rx="1.5" ry="1.0" transform="rotate(-19 329.05 89.39)" stroke="#f8dc74" stroke-width="0.7" fill="none" opacity="1"/>
<ellipse cx="329.95" cy="86.69" rx="1.2" ry="0.8" transform="rotate(-19 329.95 86.69)" stroke="#f8dc74" stroke-width="0.6" fill="none" opacity="1"/>
<ellipse cx="328.15" cy="92.09" rx="1.2" ry="0.8" transform="rotate(-19 328.15 92.09)" stroke="#f8dc74" stroke-width="0.6" fill="none" opacity="1"/>
<ellipse cx="331.89" cy="88.42" rx="1.5" ry="1.0" transform="rotate(-19 331.89 88.42)" stroke="#f8dc74" stroke-width="0.7" fill="none" opacity="1"/>
<ellipse cx="332.79" cy="85.72" rx="1.2" ry="0.8" transform="rotate(-19 332.79 85.72)" stroke="#f8dc74" stroke-width="0.6" fill="none" opacity="1"/>
<ellipse cx="330.99" cy="91.12" rx="1.2" ry="0.8" transform="rotate(-19 330.99 91.12)" stroke="#f8dc74" stroke-width="0.6" fill="none" opacity="1"/>
<ellipse cx="334.74" cy="87.45" rx="1.5" ry="1.0" transform="rotate(-19 334.74 87.45)" stroke="#f8dc74" stroke-width="0.7" fill="none" opacity="1"/>
<ellipse cx="335.64" cy="84.75" rx="1.2" ry="0.8" transform="rotate(-19 335.64 84.75)" stroke="#f8dc74" stroke-width="0.6" fill="none" opacity="1"/>
<ellipse cx="333.84" cy="90.15" rx="1.2" ry="0.8" transform="rotate(-19 333.84 90.15)" stroke="#f8dc74" stroke-width="0.6" fill="none" opacity="1"/>
<ellipse cx="337.58" cy="86.48" rx="1.5" ry="1.0" transform="rotate(-19 337.58 86.48)" stroke="#f8dc74" stroke-width="0.7" fill="none" opacity="1"/>
<ellipse cx="338.48" cy="83.78" rx="1.2" ry="0.8" transform="rotate(-19 338.48 83.78)" stroke="#f8dc74" stroke-width="0.6" fill="none" opacity="1"/>
<ellipse cx="336.68" cy="89.18" rx="1.2" ry="0.8" transform="rotate(-19 336.68 89.18)" stroke="#f8dc74" stroke-width="0.6" fill="none" opacity="1"/>
<ellipse cx="340.42" cy="85.52" rx="1.5" ry="1.0" transform="rotate(-19 340.42 85.52)" stroke="#f8dc74" stroke-width="0.7" fill="none" opacity="1"/>
<ellipse cx="341.32" cy="82.82" rx="1.2" ry="0.8" transform="rotate(-19 341.32 82.82)" stroke="#f8dc74" stroke-width="0.6" fill="none" opacity="1"/>
<ellipse cx="339.52" cy="88.22" rx="1.2" ry="0.8" transform="rotate(-19 339.52 88.22)" stroke="#f8dc74" stroke-width="0.6" fill="none" opacity="1"/>
<ellipse cx="343.26" cy="84.55" rx="1.5" ry="1.0" transform="rotate(-19 343.26 84.55)" stroke="#f8dc74" stroke-width="0.7" fill="none" opacity="1"/>
<ellipse cx="344.16" cy="81.85" rx="1.2" ry="0.8" transform="rotate(-19 344.16 81.85)" stroke="#f8dc74" stroke-width="0.6" fill="none" opacity="1"/>
<ellipse cx="342.36" cy="87.25" rx="1.2" ry="0.8" transform="rotate(-19 342.36 87.25)" stroke="#f8dc74" stroke-width="0.6" fill="none" opacity="1"/>
<ellipse cx="346.11" cy="83.58" rx="1.5" ry="1.0" transform="rotate(-19 346.11 83.58)" stroke="#f8dc74" stroke-width="0.7" fill="none" opacity="1"/>
<ellipse cx="347.01" cy="80.88" rx="1.2" ry="0.8" transform="rotate(-19 347.01 80.88)" stroke="#f8dc74" stroke-width="0.6" fill="none" opacity="1"/>
<ellipse cx="345.21" cy="86.28" rx="1.2" ry="0.8" transform="rotate(-19 345.21 86.28)" stroke="#f8dc74" stroke-width="0.6" fill="none" opacity="1"/>
<ellipse cx="348.95" cy="82.61" rx="1.5" ry="1.0" transform="rotate(-19 348.95 82.61)" stroke="#f8dc74" stroke-width="0.7" fill="none" opacity="1"/>
<ellipse cx="349.85" cy="79.91" rx="1.2" ry="0.8" transform="rotate(-19 349.85 79.91)" stroke="#f8dc74" stroke-width="0.6" fill="none" opacity="1"/>
<ellipse cx="348.05" cy="85.31" rx="1.2" ry="0.8" transform="rotate(-19 348.05 85.31)" stroke="#f8dc74" stroke-width="0.6" fill="none" opacity="1"/>
<ellipse cx="351.79" cy="81.64" rx="1.5" ry="1.0" transform="rotate(-19 351.79 81.64)" stroke="#f8dc74" stroke-width="0.7" fill="none" opacity="1"/>
<ellipse cx="352.69" cy="78.94" rx="1.2" ry="0.8" transform="rotate(-19 352.69 78.94)" stroke="#f8dc74" stroke-width="0.6" fill="none" opacity="1"/>
<ellipse cx="350.89" cy="84.34" rx="1.2" ry="0.8" transform="rotate(-19 350.89 84.34)" stroke="#f8dc74" stroke-width="0.6" fill="none" opacity="1"/>
<ellipse cx="354.63" cy="80.67" rx="1.5" ry="1.0" transform="rotate(-19 354.63 80.67)" stroke="#f8dc74" stroke-width="0.7" fill="none" opacity="1"/>
<ellipse cx="355.53" cy="77.97" rx="1.2" ry="0.8" transform="rotate(-19 355.53 77.97)" stroke="#f8dc74" stroke-width="0.6" fill="none" opacity="1"/>
<ellipse cx="353.73" cy="83.37" rx="1.2" ry="0.8" transform="rotate(-19 353.73 83.37)" stroke="#f8dc74" stroke-width="0.6" fill="none" opacity="1"/>
<ellipse cx="357.47" cy="79.71" rx="1.5" ry="1.0" transform="rotate(-19 357.47 79.71)" stroke="#f8dc74" stroke-width="0.7" fill="none" opacity="1"/>
<ellipse cx="358.37" cy="77.01" rx="1.2" ry="0.8" transform="rotate(-19 358.37 77.01)" stroke="#f8dc74" stroke-width="0.6" fill="none" opacity="1"/>
<ellipse cx="356.57" cy="82.41" rx="1.2" ry="0.8" transform="rotate(-19 356.57 82.41)" stroke="#f8dc74" stroke-width="0.6" fill="none" opacity="1"/>
<ellipse cx="360.32" cy="78.74" rx="1.5" ry="1.0" transform="rotate(-19 360.32 78.74)" stroke="#f8dc74" stroke-width="0.7" fill="none" opacity="1"/>
<ellipse cx="361.22" cy="76.04" rx="1.2" ry="0.8" transform="rotate(-19 361.22 76.04)" stroke="#f8dc74" stroke-width="0.6" fill="none" opacity="1"/>
<ellipse cx="359.42" cy="81.44" rx="1.2" ry="0.8" transform="rotate(-19 359.42 81.44)" stroke="#f8dc74" stroke-width="0.6" fill="none" opacity="1"/>
<ellipse cx="363.16" cy="77.77" rx="1.5" ry="1.0" transform="rotate(-19 363.16 77.77)" stroke="#f8dc74" stroke-width="0.7" fill="none" opacity="1"/>
<ellipse cx="364.06" cy="75.07" rx="1.2" ry="0.8" transform="rotate(-19 364.06 75.07)" stroke="#f8dc74" stroke-width="0.6" fill="none" opacity="1"/>
<ellipse cx="362.26" cy="80.47" rx="1.2" ry="0.8" transform="rotate(-19 362.26 80.47)" stroke="#f8dc74" stroke-width="0.6" fill="none" opacity="1"/>
<ellipse cx="366.00" cy="76.80" rx="1.5" ry="1.0" transform="rotate(-19 366.00 76.80)" stroke="#f8dc74" stroke-width="0.7" fill="none" opacity="1"/>
<ellipse cx="366.90" cy="74.10" rx="1.2" ry="0.8" transform="rotate(-19 366.90 74.10)" stroke="#f8dc74" stroke-width="0.6" fill="none" opacity="1"/>
<ellipse cx="365.10" cy="79.50" rx="1.2" ry="0.8" transform="rotate(-19 365.10 79.50)" stroke="#f8dc74" stroke-width="0.6" fill="none" opacity="1"/>
<ellipse cx="310.50" cy="116.80" rx="2.0" ry="1.6" transform="rotate(-20 310.50 116.80)" stroke="#f8dc74" stroke-width="0.8" fill="none" opacity="1"/>
<ellipse cx="313.80" cy="115.20" rx="2.0" ry="1.6" transform="rotate(-20 313.80 115.20)" stroke="#f8dc74" stroke-width="0.8" fill="none" opacity="1"/>
<ellipse cx="317.20" cy="113.60" rx="2.0" ry="1.6" transform="rotate(-20 317.20 113.60)" stroke="#f8dc74" stroke-width="0.8" fill="none" opacity="1"/>
<ellipse cx="320.60" cy="111.80" rx="2.0" ry="1.6" transform="rotate(-20 320.60 111.80)" stroke="#f8dc74" stroke-width="0.8" fill="none" opacity="1"/>
<ellipse cx="324.00" cy="110.00" rx="2.0" ry="1.6" transform="rotate(-20 324.00 110.00)" stroke="#f8dc74" stroke-width="0.8" fill="none" opacity="1"/>
<ellipse cx="327.60" cy="107.20" rx="2.0" ry="1.6" transform="rotate(-20 327.60 107.20)" stroke="#f8dc74" stroke-width="0.8" fill="none" opacity="1"/>
<ellipse cx="329.60" cy="104.80" rx="2.0" ry="1.6" transform="rotate(-20 329.60 104.80)" stroke="#f8dc74" stroke-width="0.8" fill="none" opacity="1"/>
<ellipse cx="320.80" cy="109.60" rx="1.3" ry="1.3" transform="rotate(0 320.80 109.60)" stroke="#f8dc74" stroke-width="0.7" fill="none" opacity="1"/>
<ellipse cx="291.60" cy="125.20" rx="0.5" ry="0.8" transform="rotate(0 291.60 125.20)" stroke="#f8dc74" stroke-width="0.8" fill="none" opacity="1"/>
<ellipse cx="297.40" cy="124.40" rx="0.5" ry="0.8" transform="rotate(0 297.40 124.40)" stroke="#f8dc74" stroke-width="0.8" fill="none" opacity="1"/>
<ellipse cx="331.70" cy="107.30" rx="0.5" ry="0.8" transform="rotate(0 331.70 107.30)" stroke="#f8dc74" stroke-width="0.8" fill="none" opacity="1"/>
<ellipse cx="328.40" cy="126.90" rx="0.5" ry="0.8" transform="rotate(0 328.40 126.90)" stroke="#f8dc74" stroke-width="0.8" fill="none" opacity="1"/>
<ellipse cx="334.00" cy="126.90" rx="0.5" ry="0.8" transform="rotate(0 334.00 126.90)" stroke="#f8dc74" stroke-width="0.8" fill="none" opacity="1"/>
<ellipse cx="286.00" cy="127.00" rx="0.5" ry="0.8" transform="rotate(0 286.00 127.00)" stroke="#f8dc74" stroke-width="0.8" fill="none" opacity="1"/>
<ellipse cx="312.00" cy="156.00" rx="0.5" ry="0.8" transform="rotate(0 312.00 156.00)" stroke="#f8dc74" stroke-width="0.8" fill="none" opacity="1"/>
<ellipse cx="290.50" cy="126.00" rx="0.5" ry="0.8" transform="rotate(0 290.50 126.00)" stroke="#f8dc74" stroke-width="0.8" fill="none" opacity="1"/>
<ellipse cx="252.50" cy="179.40" rx="7.2" ry="3.6" transform="rotate(0 252.50 179.40)" stroke="#f8dc74" stroke-width="1.0" fill="none" opacity="1"/>
<ellipse cx="250.00" cy="179.60" rx="2.6" ry="2.0" transform="rotate(0 250.00 179.60)" stroke="#f8dc74" stroke-width="0.8" fill="none" opacity="1"/>
<ellipse cx="255.50" cy="179.20" rx="2.4" ry="1.8" transform="rotate(0 255.50 179.20)" stroke="#f8dc74" stroke-width="0.8" fill="none" opacity="1"/>
<ellipse cx="307.00" cy="179.50" rx="6.3" ry="7.0" transform="rotate(0 307.00 179.50)" stroke="#f6cf40" stroke-width="1.5" fill="none" opacity="1"/>
<ellipse cx="304.50" cy="180.00" rx="2.4" ry="3.4" transform="rotate(0 304.50 180.00)" stroke="#f6cf40" stroke-width="1.1" fill="none" opacity="1"/>
<ellipse cx="309.50" cy="179.50" rx="2.2" ry="3.0" transform="rotate(0 309.50 179.50)" stroke="#f6cf40" stroke-width="1.1" fill="none" opacity="1"/>
</g>
<g id="contB">
<path d="M465.00,203.50 L468.29,202.65 L471.31,201.31 L474.31,199.91 L477.28,198.48 L480.25,197.03 L483.20,195.56 L486.16,194.09 L489.11,192.61 L492.05,191.12 L494.99,189.62 L497.93,188.12 L500.87,186.62 L503.80,185.11 L506.73,183.60 L509.67,182.08 L512.59,180.57 L515.52,179.05 L518.45,177.53 L521.38,176.00 L524.30,174.48 L527.22,172.95 L530.15,171.42 L533.07,169.88 L535.99,168.35 L538.91,166.81 L541.82,165.28 L544.74,163.74 L547.66,162.20 L550.57,160.65 L553.49,159.11 L556.40,157.56 L559.32,156.02 L562.23,154.47 L565.14,152.92 L568.05,151.37 L570.96,149.81 L573.87,148.26 L576.78,146.70 L579.69,145.15 L582.60,143.59 L585.50,142.03 L588.41,140.47 L591.31,138.91 L594.22,137.34 L597.12,135.78 L600.02,134.21 L602.93,132.64 L605.83,131.08 L608.73,129.51 L611.63,127.93 L614.53,126.36 L617.43,124.79 L620.32,123.21 L623.22,121.63 L626.12,120.06 L629.01,118.48 L631.91,116.89 L634.80,115.31 L637.70,113.73 L640.59,112.14 L643.48,110.56 L646.37,108.97 L649.26,107.38 L652.15,105.79 L655.04,104.19 L657.93,102.60 L660.81,101.00 L663.70,99.40 L666.58,97.80 L669.47,96.20 L672.35,94.59 L675.23,92.99 L678.11,91.38 L680.99,89.77 L683.87,88.15 L686.74,86.53 L689.61,84.91 L692.49,83.29 L695.36,81.66 L698.22,80.03 L701.09,78.40 L703.95,76.75 L706.81,75.11 L709.66,73.45 L712.51,71.78 L715.36,70.10 L718.19,68.40 L721.00,66.67 L723.78,64.88 L726.30,62.60 L726.30,62.60 L723.01,63.45 L719.99,64.79 L716.99,66.19 L714.02,67.62 L711.05,69.07 L708.10,70.54 L705.14,72.01 L702.19,73.49 L699.25,74.98 L696.31,76.48 L693.37,77.98 L690.43,79.48 L687.50,80.99 L684.57,82.50 L681.63,84.02 L678.71,85.53 L675.78,87.05 L672.85,88.57 L669.92,90.10 L667.00,91.62 L664.08,93.15 L661.15,94.68 L658.23,96.22 L655.31,97.75 L652.39,99.29 L649.48,100.82 L646.56,102.36 L643.64,103.90 L640.73,105.45 L637.81,106.99 L634.90,108.54 L631.98,110.08 L629.07,111.63 L626.16,113.18 L623.25,114.73 L620.34,116.29 L617.43,117.84 L614.52,119.40 L611.61,120.95 L608.70,122.51 L605.80,124.07 L602.89,125.63 L599.99,127.19 L597.08,128.76 L594.18,130.32 L591.28,131.89 L588.37,133.46 L585.47,135.02 L582.57,136.59 L579.67,138.17 L576.77,139.74 L573.87,141.31 L570.98,142.89 L568.08,144.47 L565.18,146.04 L562.29,147.62 L559.39,149.21 L556.50,150.79 L553.60,152.37 L550.71,153.96 L547.82,155.54 L544.93,157.13 L542.04,158.72 L539.15,160.31 L536.26,161.91 L533.37,163.50 L530.49,165.10 L527.60,166.70 L524.72,168.30 L521.83,169.90 L518.95,171.51 L516.07,173.11 L513.19,174.72 L510.31,176.33 L507.43,177.95 L504.56,179.57 L501.69,181.19 L498.81,182.81 L495.94,184.44 L493.08,186.07 L490.21,187.70 L487.35,189.35 L484.49,190.99 L481.64,192.65 L478.79,194.32 L475.94,196.00 L473.11,197.70 L470.30,199.43 L467.52,201.22 L465.00,203.50 Z" stroke="#f6d14a" stroke-width="1.15" fill="none" opacity="1" stroke-linejoin="round"/>
<ellipse cx="475.09" cy="198.03" rx="1.8519348566040272" ry="1.1" transform="rotate(-28.354676635225953 475.09 198.03)" stroke="#f7d864" stroke-width="0.7" fill="none" opacity="1"/>
<ellipse cx="481.26" cy="194.70" rx="2.011909951255482" ry="1.1" transform="rotate(-28.354676635225953 481.26 194.70)" stroke="#f7d864" stroke-width="0.7" fill="none" opacity="1"/>
<ellipse cx="487.44" cy="191.37" rx="2.1796060287982177" ry="1.1" transform="rotate(-28.354676635225953 487.44 191.37)" stroke="#f7d864" stroke-width="0.7" fill="none" opacity="1"/>
<ellipse cx="493.61" cy="188.04" rx="2.4059585821093967" ry="1.1" transform="rotate(-28.354676635225953 493.61 188.04)" stroke="#f7d864" stroke-width="0.7" fill="none" opacity="1"/>
<ellipse cx="499.79" cy="184.70" rx="2.440254948376113" ry="1.1" transform="rotate(-28.354676635225953 499.79 184.70)" stroke="#f7d864" stroke-width="0.7" fill="none" opacity="1"/>
<ellipse cx="505.96" cy="181.37" rx="1.7637212734972156" ry="1.1" transform="rotate(-28.354676635225953 505.96 181.37)" stroke="#f7d864" stroke-width="0.7" fill="none" opacity="1"/>
<ellipse cx="512.14" cy="178.04" rx="2.3734820894334714" ry="1.1" transform="rotate(-28.354676635225953 512.14 178.04)" stroke="#f7d864" stroke-width="0.7" fill="none" opacity="1"/>
<ellipse cx="518.31" cy="174.71" rx="2.115394708134246" ry="1.1" transform="rotate(-28.354676635225953 518.31 174.71)" stroke="#f7d864" stroke-width="0.7" fill="none" opacity="1"/>
<ellipse cx="524.49" cy="171.37" rx="2.553566744375657" ry="1.1" transform="rotate(-28.354676635225953 524.49 171.37)" stroke="#f7d864" stroke-width="0.7" fill="none" opacity="1"/>
<ellipse cx="530.66" cy="168.04" rx="2.2260614823294196" ry="1.1" transform="rotate(-28.354676635225953 530.66 168.04)" stroke="#f7d864" stroke-width="0.7" fill="none" opacity="1"/>
<ellipse cx="536.84" cy="164.71" rx="2.444896551271319" ry="1.1" transform="rotate(-28.354676635225953 536.84 164.71)" stroke="#f7d864" stroke-width="0.7" fill="none" opacity="1"/>
<ellipse cx="543.01" cy="161.38" rx="2.125159423302178" ry="1.1" transform="rotate(-28.354676635225953 543.01 161.38)" stroke="#f7d864" stroke-width="0.7" fill="none" opacity="1"/>
<ellipse cx="549.19" cy="158.04" rx="1.8766985900328015" ry="1.1" transform="rotate(-28.354676635225953 549.19 158.04)" stroke="#f7d864" stroke-width="0.7" fill="none" opacity="1"/>
<ellipse cx="555.36" cy="154.71" rx="2.4656117162583326" ry="1.1" transform="rotate(-28.354676635225953 555.36 154.71)" stroke="#f7d864" stroke-width="0.7" fill="none" opacity="1"/>
<ellipse cx="561.54" cy="151.38" rx="2.368955477167254" ry="1.1" transform="rotate(-28.354676635225953 561.54 151.38)" stroke="#f7d864" stroke-width="0.7" fill="none" opacity="1"/>
<ellipse cx="567.71" cy="148.05" rx="2.5439843873278325" ry="1.1" transform="rotate(-28.354676635225953 567.71 148.05)" stroke="#f7d864" stroke-width="0.7" fill="none" opacity="1"/>
<ellipse cx="573.89" cy="144.71" rx="2.6182641814460106" ry="1.1" transform="rotate(-28.354676635225953 573.89 144.71)" stroke="#f7d864" stroke-width="0.7" fill="none" opacity="1"/>
<ellipse cx="580.06" cy="141.38" rx="2.4391556448860388" ry="1.1" transform="rotate(-28.354676635225953 580.06 141.38)" stroke="#f7d864" stroke-width="0.7" fill="none" opacity="1"/>
<ellipse cx="586.24" cy="138.05" rx="2.5535901311750524" ry="1.1" transform="rotate(-28.354676635225953 586.24 138.05)" stroke="#f7d864" stroke-width="0.7" fill="none" opacity="1"/>
<ellipse cx="592.41" cy="134.72" rx="2.014566761289019" ry="1.1" transform="rotate(-28.354676635225953 592.41 134.72)" stroke="#f7d864" stroke-width="0.7" fill="none" opacity="1"/>
<ellipse cx="598.59" cy="131.38" rx="2.103265144887357" ry="1.1" transform="rotate(-28.354676635225953 598.59 131.38)" stroke="#f7d864" stroke-width="0.7" fill="none" opacity="1"/>
<ellipse cx="604.76" cy="128.05" rx="2.417504155220438" ry="1.1" transform="rotate(-28.354676635225953 604.76 128.05)" stroke="#f7d864" stroke-width="0.7" fill="none" opacity="1"/>
<ellipse cx="610.94" cy="124.72" rx="1.7072739473697744" ry="1.1" transform="rotate(-28.354676635225953 610.94 124.72)" stroke="#f7d864" stroke-width="0.7" fill="none" opacity="1"/>
<ellipse cx="617.11" cy="121.39" rx="1.7414945871515342" ry="1.1" transform="rotate(-28.354676635225953 617.11 121.39)" stroke="#f7d864" stroke-width="0.7" fill="none" opacity="1"/>
<ellipse cx="623.29" cy="118.05" rx="1.8459804549202103" ry="1.1" transform="rotate(-28.354676635225953 623.29 118.05)" stroke="#f7d864" stroke-width="0.7" fill="none" opacity="1"/>
<ellipse cx="629.46" cy="114.72" rx="2.436389679307989" ry="1.1" transform="rotate(-28.354676635225953 629.46 114.72)" stroke="#f7d864" stroke-width="0.7" fill="none" opacity="1"/>
<ellipse cx="635.64" cy="111.39" rx="1.8227285313593664" ry="1.1" transform="rotate(-28.354676635225953 635.64 111.39)" stroke="#f7d864" stroke-width="0.7" fill="none" opacity="1"/>
<ellipse cx="641.81" cy="108.06" rx="2.374623731505006" ry="1.1" transform="rotate(-28.354676635225953 641.81 108.06)" stroke="#f7d864" stroke-width="0.7" fill="none" opacity="1"/>
<ellipse cx="647.99" cy="104.72" rx="2.341796682645058" ry="1.1" transform="rotate(-28.354676635225953 647.99 104.72)" stroke="#f7d864" stroke-width="0.7" fill="none" opacity="1"/>
<ellipse cx="654.16" cy="101.39" rx="2.152878045408376" ry="1.1" transform="rotate(-28.354676635225953 654.16 101.39)" stroke="#f7d864" stroke-width="0.7" fill="none" opacity="1"/>
<ellipse cx="660.34" cy="98.06" rx="1.762582567390245" ry="1.1" transform="rotate(-28.354676635225953 660.34 98.06)" stroke="#f7d864" stroke-width="0.7" fill="none" opacity="1"/>
<ellipse cx="666.51" cy="94.73" rx="2.1855968682201503" ry="1.1" transform="rotate(-28.354676635225953 666.51 94.73)" stroke="#f7d864" stroke-width="0.7" fill="none" opacity="1"/>
<ellipse cx="672.69" cy="91.39" rx="2.379689473353847" ry="1.1" transform="rotate(-28.354676635225953 672.69 91.39)" stroke="#f7d864" stroke-width="0.7" fill="none" opacity="1"/>
<ellipse cx="678.86" cy="88.06" rx="2.1818714154783367" ry="1.1" transform="rotate(-28.354676635225953 678.86 88.06)" stroke="#f7d864" stroke-width="0.7" fill="none" opacity="1"/>
<ellipse cx="685.04" cy="84.73" rx="2.2175722450483804" ry="1.1" transform="rotate(-28.354676635225953 685.04 84.73)" stroke="#f7d864" stroke-width="0.7" fill="none" opacity="1"/>
<ellipse cx="691.21" cy="81.40" rx="2.0459683009728282" ry="1.1" transform="rotate(-28.354676635225953 691.21 81.40)" stroke="#f7d864" stroke-width="0.7" fill="none" opacity="1"/>
<ellipse cx="697.39" cy="78.06" rx="2.5445040364940255" ry="1.1" transform="rotate(-28.354676635225953 697.39 78.06)" stroke="#f7d864" stroke-width="0.7" fill="none" opacity="1"/>
<ellipse cx="703.56" cy="74.73" rx="2.496740385111454" ry="1.1" transform="rotate(-28.354676635225953 703.56 74.73)" stroke="#f7d864" stroke-width="0.7" fill="none" opacity="1"/>
<ellipse cx="709.74" cy="71.40" rx="2.1832569070312675" ry="1.1" transform="rotate(-28.354676635225953 709.74 71.40)" stroke="#f7d864" stroke-width="0.7" fill="none" opacity="1"/>
<ellipse cx="715.91" cy="68.07" rx="1.8729285364943755" ry="1.1" transform="rotate(-28.354676635225953 715.91 68.07)" stroke="#f7d864" stroke-width="0.7" fill="none" opacity="1"/>
<path d="M650.00,104.00 L652.38,103.84 L654.54,103.26 L656.64,102.58 L658.71,101.86 L660.77,101.10 L662.81,100.31 L664.84,99.49 L666.85,98.66 L668.86,97.81 L670.86,96.93 L672.84,96.05 L674.82,95.14 L676.79,94.22 L678.75,93.28 L680.70,92.33 L682.65,91.36 L684.58,90.38 L686.51,89.38 L688.43,88.37 L690.34,87.34 L692.25,86.30 L694.14,85.24 L696.03,84.17 L697.91,83.08 L699.78,81.98 L701.64,80.86 L703.50,79.73 L705.34,78.58 L707.18,77.42 L709.01,76.23 L710.83,75.04 L712.63,73.82 L714.43,72.58 L716.22,71.33 L718.00,70.05 L719.75,68.74 L721.49,67.39 L723.21,66.00 L724.87,64.51 L726.30,62.60 L726.30,62.60 L723.92,62.76 L721.76,63.34 L719.66,64.02 L717.59,64.74 L715.53,65.50 L713.49,66.29 L711.46,67.11 L709.45,67.94 L707.44,68.79 L705.44,69.67 L703.46,70.55 L701.48,71.46 L699.51,72.38 L697.55,73.32 L695.60,74.27 L693.65,75.24 L691.72,76.22 L689.79,77.22 L687.87,78.23 L685.96,79.26 L684.05,80.30 L682.16,81.36 L680.27,82.43 L678.39,83.52 L676.52,84.62 L674.66,85.74 L672.80,86.87 L670.96,88.02 L669.12,89.18 L667.29,90.37 L665.47,91.56 L663.67,92.78 L661.87,94.02 L660.08,95.27 L658.30,96.55 L656.55,97.86 L654.81,99.21 L653.09,100.60 L651.43,102.09 L650.00,104.00 Z" stroke="#f8dc78" stroke-width="0.8" fill="none" opacity="1" stroke-linejoin="round"/>
<path d="M585.00,138.70 L587.97,137.32 L590.89,135.85 L593.80,134.37 L596.71,132.87 L599.62,131.37 L602.52,129.86 L605.42,128.35 L608.31,126.84 L611.21,125.32 L614.10,123.79 L616.99,122.27 L619.88,120.74 L622.76,119.20 L625.65,117.67 L628.53,116.13 L631.42,114.59 L634.30,113.04 L637.17,111.50 L640.05,109.95 L642.93,108.39 L645.80,106.84 L648.67,105.28 L651.55,103.71 L654.42,102.15 L657.28,100.58 L660.15,99.01 L663.01,97.43 L665.88,95.86 L668.74,94.28 L671.60,92.69 L674.46,91.11 L677.31,89.52 L680.17,87.92 L683.02,86.32 L685.87,84.72 L688.71,83.11 L691.55,81.50 L694.39,79.87 L697.22,78.23 L700.00,76.50 L700.00,76.50 L697.03,77.88 L694.11,79.35 L691.20,80.83 L688.29,82.33 L685.38,83.83 L682.48,85.34 L679.58,86.85 L676.69,88.36 L673.79,89.88 L670.90,91.41 L668.01,92.93 L665.12,94.46 L662.24,96.00 L659.35,97.53 L656.47,99.07 L653.58,100.61 L650.70,102.16 L647.83,103.70 L644.95,105.25 L642.07,106.81 L639.20,108.36 L636.33,109.92 L633.45,111.49 L630.58,113.05 L627.72,114.62 L624.85,116.19 L621.99,117.77 L619.12,119.34 L616.26,120.92 L613.40,122.51 L610.54,124.09 L607.69,125.68 L604.83,127.28 L601.98,128.88 L599.13,130.48 L596.29,132.09 L593.45,133.70 L590.61,135.33 L587.78,136.97 L585.00,138.70 Z" stroke="#f0b070" stroke-width="0.6" fill="none" opacity="1" stroke-linejoin="round"/>
<path d="M600.00,130.60 L602.45,129.39 L604.88,128.15 L607.30,126.90 L609.73,125.65 L612.15,124.39 L614.56,123.12 L616.98,121.86 L619.39,120.58 L621.80,119.31 L624.21,118.03 L626.62,116.75 L629.03,115.46 L631.43,114.18 L633.84,112.88 L636.24,111.59 L638.64,110.29 L641.03,108.99 L643.43,107.68 L645.82,106.38 L648.21,105.06 L650.60,103.75 L652.99,102.43 L655.38,101.11 L657.76,99.78 L660.15,98.45 L662.53,97.12 L664.90,95.78 L667.28,94.44 L669.65,93.09 L672.00,91.70 L672.00,91.70 L669.55,92.91 L667.12,94.15 L664.70,95.40 L662.27,96.65 L659.85,97.91 L657.44,99.18 L655.02,100.44 L652.61,101.72 L650.20,102.99 L647.79,104.27 L645.38,105.55 L642.97,106.84 L640.57,108.12 L638.16,109.42 L635.76,110.71 L633.36,112.01 L630.97,113.31 L628.57,114.62 L626.18,115.92 L623.79,117.24 L621.40,118.55 L619.01,119.87 L616.62,121.19 L614.24,122.52 L611.85,123.85 L609.47,125.18 L607.10,126.52 L604.72,127.86 L602.35,129.21 L600.00,130.60 Z" stroke="#ef9c80" stroke-width="0.6" fill="none" opacity="1" stroke-linejoin="round"/>
<path d="M587.00,117.00 L588.95,116.99 L590.76,116.60 L592.54,116.15 L594.31,115.66 L596.06,115.15 L597.81,114.62 L599.56,114.08 L601.30,113.53 L603.04,112.97 L604.78,112.40 L606.51,111.82 L608.24,111.24 L609.97,110.65 L611.69,110.05 L613.41,109.45 L615.13,108.84 L616.85,108.22 L618.56,107.60 L620.28,106.98 L621.99,106.35 L623.70,105.71 L625.40,105.07 L627.11,104.42 L628.81,103.77 L630.51,103.11 L632.21,102.45 L633.91,101.78 L635.60,101.11 L637.30,100.43 L638.99,99.75 L640.68,99.06 L642.36,98.36 L644.05,97.66 L645.73,96.96 L647.41,96.25 L649.09,95.53 L650.77,94.81 L652.44,94.08 L654.11,93.34 L655.78,92.60 L657.44,91.85 L659.10,91.09 L660.76,90.32 L662.41,89.54 L664.06,88.75 L665.71,87.94 L667.34,87.11 L668.96,86.24 L670.55,85.31 L672.00,84.00 L672.00,84.00 L670.05,84.01 L668.24,84.40 L666.46,84.85 L664.69,85.34 L662.94,85.85 L661.19,86.38 L659.44,86.92 L657.70,87.47 L655.96,88.03 L654.22,88.60 L652.49,89.18 L650.76,89.76 L649.03,90.35 L647.31,90.95 L645.59,91.55 L643.87,92.16 L642.15,92.78 L640.44,93.40 L638.72,94.02 L637.01,94.65 L635.30,95.29 L633.60,95.93 L631.89,96.58 L630.19,97.23 L628.49,97.89 L626.79,98.55 L625.09,99.22 L623.40,99.89 L621.70,100.57 L620.01,101.25 L618.32,101.94 L616.64,102.64 L614.95,103.34 L613.27,104.04 L611.59,104.75 L609.91,105.47 L608.23,106.19 L606.56,106.92 L604.89,107.66 L603.22,108.40 L601.56,109.15 L599.90,109.91 L598.24,110.68 L596.59,111.46 L594.94,112.25 L593.29,113.06 L591.66,113.89 L590.04,114.76 L588.45,115.69 L587.00,117.00 Z" stroke="#f6d14a" stroke-width="1.05" fill="none" opacity="1" stroke-linejoin="round"/>
<ellipse cx="594.68" cy="113.96" rx="1.9827932113732658" ry="1.0" transform="rotate(-21.13982480865766 594.68 113.96)" stroke="#f7d864" stroke-width="0.7" fill="none" opacity="1"/>
<ellipse cx="600.04" cy="111.89" rx="1.5644248556623068" ry="1.0" transform="rotate(-21.13982480865766 600.04 111.89)" stroke="#f7d864" stroke-width="0.7" fill="none" opacity="1"/>
<ellipse cx="605.39" cy="109.82" rx="1.9940956390445768" ry="1.0" transform="rotate(-21.13982480865766 605.39 109.82)" stroke="#f7d864" stroke-width="0.7" fill="none" opacity="1"/>
<ellipse cx="610.75" cy="107.75" rx="2.244940338661324" ry="1.0" transform="rotate(-21.13982480865766 610.75 107.75)" stroke="#f7d864" stroke-width="0.7" fill="none" opacity="1"/>
<ellipse cx="616.11" cy="105.68" rx="1.972115592971708" ry="1.0" transform="rotate(-21.13982480865766 616.11 105.68)" stroke="#f7d864" stroke-width="0.7" fill="none" opacity="1"/>
<ellipse cx="621.46" cy="103.61" rx="1.5979922009939456" ry="1.0" transform="rotate(-21.13982480865766 621.46 103.61)" stroke="#f7d864" stroke-width="0.7" fill="none" opacity="1"/>
<ellipse cx="626.82" cy="101.54" rx="1.9041211969426948" ry="1.0" transform="rotate(-21.13982480865766 626.82 101.54)" stroke="#f7d864" stroke-width="0.7" fill="none" opacity="1"/>
<ellipse cx="632.18" cy="99.46" rx="2.352608485487553" ry="1.0" transform="rotate(-21.13982480865766 632.18 99.46)" stroke="#f7d864" stroke-width="0.7" fill="none" opacity="1"/>
<ellipse cx="637.54" cy="97.39" rx="1.9563821199079767" ry="1.0" transform="rotate(-21.13982480865766 637.54 97.39)" stroke="#f7d864" stroke-width="0.7" fill="none" opacity="1"/>
<ellipse cx="642.89" cy="95.32" rx="1.9216362797676576" ry="1.0" transform="rotate(-21.13982480865766 642.89 95.32)" stroke="#f7d864" stroke-width="0.7" fill="none" opacity="1"/>
<ellipse cx="648.25" cy="93.25" rx="2.3324888122798204" ry="1.0" transform="rotate(-21.13982480865766 648.25 93.25)" stroke="#f7d864" stroke-width="0.7" fill="none" opacity="1"/>
<ellipse cx="653.61" cy="91.18" rx="1.819148888704032" ry="1.0" transform="rotate(-21.13982480865766 653.61 91.18)" stroke="#f7d864" stroke-width="0.7" fill="none" opacity="1"/>
<ellipse cx="658.96" cy="89.11" rx="2.0837474950096353" ry="1.0" transform="rotate(-21.13982480865766 658.96 89.11)" stroke="#f7d864" stroke-width="0.7" fill="none" opacity="1"/>
<ellipse cx="664.32" cy="87.04" rx="1.6539260761279904" ry="1.0" transform="rotate(-21.13982480865766 664.32 87.04)" stroke="#f7d864" stroke-width="0.7" fill="none" opacity="1"/>
<path d="M600.00,112.00 L601.89,111.42 L603.75,110.79 L605.61,110.15 L607.47,109.49 L609.32,108.83 L611.17,108.17 L613.02,107.50 L614.87,106.82 L616.72,106.14 L618.56,105.46 L620.40,104.77 L622.25,104.07 L624.08,103.37 L625.92,102.66 L627.75,101.95 L629.59,101.24 L631.42,100.52 L633.25,99.79 L635.07,99.06 L636.90,98.32 L638.72,97.58 L640.54,96.84 L642.36,96.09 L644.17,95.33 L645.99,94.57 L647.80,93.80 L649.61,93.03 L651.42,92.24 L653.22,91.45 L655.00,90.60 L655.00,90.60 L653.11,91.18 L651.25,91.81 L649.39,92.45 L647.53,93.11 L645.68,93.77 L643.83,94.43 L641.98,95.10 L640.13,95.78 L638.28,96.46 L636.44,97.14 L634.60,97.83 L632.75,98.53 L630.92,99.23 L629.08,99.94 L627.25,100.65 L625.41,101.36 L623.58,102.08 L621.75,102.81 L619.93,103.54 L618.10,104.28 L616.28,105.02 L614.46,105.76 L612.64,106.51 L610.83,107.27 L609.01,108.03 L607.20,108.80 L605.39,109.57 L603.58,110.36 L601.78,111.15 L600.00,112.00 Z" stroke="#f0b070" stroke-width="0.6" fill="none" opacity="1" stroke-linejoin="round"/>
<path d="M606.00,109.60 L607.99,108.94 L609.96,108.24 L611.93,107.53 L613.90,106.82 L615.86,106.09 L617.83,105.36 L619.78,104.62 L621.74,103.88 L623.69,103.13 L625.65,102.37 L627.59,101.61 L629.54,100.84 L631.48,100.06 L633.43,99.28 L635.36,98.49 L637.30,97.70 L639.23,96.89 L641.16,96.08 L643.09,95.26 L645.00,94.40 L645.00,94.40 L643.01,95.06 L641.04,95.76 L639.07,96.47 L637.10,97.18 L635.14,97.91 L633.17,98.64 L631.22,99.38 L629.26,100.12 L627.31,100.87 L625.35,101.63 L623.41,102.39 L621.46,103.16 L619.52,103.94 L617.57,104.72 L615.64,105.51 L613.70,106.30 L611.77,107.11 L609.84,107.92 L607.91,108.74 L606.00,109.60 Z" stroke="#ef9c80" stroke-width="0.6" fill="none" opacity="1" stroke-linejoin="round"/>
<path d="M612.50,138.50 L614.09,138.59 L615.47,138.27 L616.81,137.87 L618.14,137.44 L619.46,136.99 L620.76,136.52 L622.06,136.03 L623.35,135.52 L624.64,135.01 L625.92,134.49 L627.20,133.95 L628.47,133.41 L629.73,132.85 L631.00,132.29 L632.26,131.72 L633.51,131.15 L634.76,130.56 L636.01,129.97 L637.25,129.37 L638.49,128.76 L639.73,128.14 L640.96,127.52 L642.19,126.89 L643.41,126.25 L644.63,125.60 L645.85,124.94 L647.06,124.28 L648.27,123.61 L649.47,122.93 L650.67,122.24 L651.86,121.53 L653.05,120.82 L654.24,120.10 L655.41,119.37 L656.58,118.61 L657.74,117.84 L658.89,117.05 L660.02,116.22 L661.11,115.32 L662.00,114.00 L662.00,114.00 L660.41,113.91 L659.03,114.23 L657.69,114.63 L656.36,115.06 L655.04,115.51 L653.74,115.98 L652.44,116.47 L651.15,116.98 L649.86,117.49 L648.58,118.01 L647.30,118.55 L646.03,119.09 L644.77,119.65 L643.50,120.21 L642.24,120.78 L640.99,121.35 L639.74,121.94 L638.49,122.53 L637.25,123.13 L636.01,123.74 L634.77,124.36 L633.54,124.98 L632.31,125.61 L631.09,126.25 L629.87,126.90 L628.65,127.56 L627.44,128.22 L626.23,128.89 L625.03,129.57 L623.83,130.26 L622.64,130.97 L621.45,131.68 L620.26,132.40 L619.09,133.13 L617.92,133.89 L616.76,134.66 L615.61,135.45 L614.48,136.28 L613.39,137.18 L612.50,138.50 Z" stroke="#f6d14a" stroke-width="1.05" fill="none" opacity="1" stroke-linejoin="round"/>
<ellipse cx="619.50" cy="134.96" rx="1.5600516267966469" ry="1.0" transform="rotate(-26.33541000388133 619.50 134.96)" stroke="#f7d864" stroke-width="0.7" fill="none" opacity="1"/>
<ellipse cx="624.50" cy="132.49" rx="1.7399882043183805" ry="1.0" transform="rotate(-26.33541000388133 624.50 132.49)" stroke="#f7d864" stroke-width="0.7" fill="none" opacity="1"/>
<ellipse cx="629.50" cy="130.01" rx="1.8234323793409055" ry="1.0" transform="rotate(-26.33541000388133 629.50 130.01)" stroke="#f7d864" stroke-width="0.7" fill="none" opacity="1"/>
<ellipse cx="634.50" cy="127.54" rx="2.0853943756145537" ry="1.0" transform="rotate(-26.33541000388133 634.50 127.54)" stroke="#f7d864" stroke-width="0.7" fill="none" opacity="1"/>
<ellipse cx="639.50" cy="125.06" rx="2.183186500313642" ry="1.0" transform="rotate(-26.33541000388133 639.50 125.06)" stroke="#f7d864" stroke-width="0.7" fill="none" opacity="1"/>
<ellipse cx="644.50" cy="122.59" rx="1.9892127673976336" ry="1.0" transform="rotate(-26.33541000388133 644.50 122.59)" stroke="#f7d864" stroke-width="0.7" fill="none" opacity="1"/>
<ellipse cx="649.50" cy="120.11" rx="1.7140013859957715" ry="1.0" transform="rotate(-26.33541000388133 649.50 120.11)" stroke="#f7d864" stroke-width="0.7" fill="none" opacity="1"/>
<ellipse cx="654.50" cy="117.64" rx="1.9243628908728063" ry="1.0" transform="rotate(-26.33541000388133 654.50 117.64)" stroke="#f7d864" stroke-width="0.7" fill="none" opacity="1"/>
<path d="M624.00,132.80 L625.47,132.26 L626.92,131.66 L628.35,131.04 L629.78,130.41 L631.21,129.77 L632.63,129.12 L634.04,128.47 L635.46,127.80 L636.86,127.12 L638.27,126.44 L639.66,125.74 L641.06,125.04 L642.44,124.33 L643.83,123.60 L645.21,122.87 L646.58,122.13 L647.95,121.38 L649.32,120.62 L650.67,119.84 L652.00,119.00 L652.00,119.00 L650.53,119.54 L649.08,120.14 L647.65,120.76 L646.22,121.39 L644.79,122.03 L643.37,122.68 L641.96,123.33 L640.54,124.00 L639.14,124.68 L637.73,125.36 L636.34,126.06 L634.94,126.76 L633.56,127.47 L632.17,128.20 L630.79,128.93 L629.42,129.67 L628.05,130.42 L626.68,131.18 L625.33,131.96 L624.00,132.80 Z" stroke="#f0b070" stroke-width="0.6" fill="none" opacity="1" stroke-linejoin="round"/>
<path d="M479.40,120.10 L480.72,119.54 L482.02,118.96 L483.32,118.37 L484.61,117.78 L485.91,117.19 L487.20,116.59 L488.49,115.99 L489.78,115.39 L491.07,114.79 L492.36,114.18 L493.64,113.58 L494.93,112.97 L496.22,112.36 L497.50,111.75 L498.79,111.15 L500.07,110.54 L501.36,109.93 L502.64,109.32 L503.93,108.70 L505.21,108.09 L506.49,107.48 L507.78,106.87 L509.06,106.25 L510.34,105.64 L511.63,105.02 L512.91,104.41 L514.19,103.79 L515.09,102.53 L515.96,101.22 L516.81,99.88 L515.19,97.12 L513.60,97.22 L512.03,97.35 L510.49,97.53 L509.33,98.35 L508.17,99.18 L507.02,100.00 L505.86,100.83 L504.70,101.65 L503.55,102.48 L502.39,103.31 L501.23,104.14 L500.08,104.96 L498.92,105.79 L497.77,106.62 L496.61,107.45 L495.46,108.29 L494.30,109.12 L493.15,109.95 L492.00,110.78 L490.84,111.62 L489.69,112.45 L488.54,113.29 L487.39,114.13 L486.24,114.97 L485.09,115.81 L483.95,116.66 L482.80,117.51 L481.66,118.36 L480.52,119.22 L479.40,120.10 Z" stroke="#f6d14a" stroke-width="1.0" fill="none" opacity="1" stroke-linejoin="round"/>
<path d="M488.00,115.00 L489.30,114.36 L490.60,113.72 L491.90,113.08 L493.20,112.45 L494.50,111.81 L495.80,111.17 L497.10,110.53 L498.40,109.89 L499.70,109.25 L501.00,108.62 L502.30,107.98 L503.60,107.34 L504.90,106.70 L506.20,106.06 L507.50,105.42 L508.80,104.78 L510.10,104.15 L511.40,103.51 L512.42,102.38 L513.40,101.19 L512.60,99.81 L511.08,100.07 L509.60,100.39 L508.40,101.20 L507.20,102.02 L506.00,102.83 L504.80,103.64 L503.60,104.45 L502.40,105.26 L501.20,106.07 L500.00,106.88 L498.80,107.70 L497.60,108.51 L496.40,109.32 L495.20,110.13 L494.00,110.94 L492.80,111.75 L491.60,112.57 L490.40,113.38 L489.20,114.19 L488.00,115.00 Z" stroke="#f8dc72" stroke-width="0.7" fill="none" opacity="1" stroke-linejoin="round"/>
<ellipse cx="496.50" cy="109.92" rx="1.0384329658455123" ry="0.7" transform="rotate(-30.398727714166057 496.50 109.92)" stroke="#f8dc72" stroke-width="0.65" fill="none" opacity="1"/>
<ellipse cx="499.50" cy="108.16" rx="0.9166696806127438" ry="0.7" transform="rotate(-30.398727714166057 499.50 108.16)" stroke="#f8dc72" stroke-width="0.65" fill="none" opacity="1"/>
<ellipse cx="502.50" cy="106.40" rx="1.143031198503988" ry="0.7" transform="rotate(-30.398727714166057 502.50 106.40)" stroke="#f8dc72" stroke-width="0.65" fill="none" opacity="1"/>
<ellipse cx="505.50" cy="104.64" rx="1.0942171283346582" ry="0.7" transform="rotate(-30.398727714166057 505.50 104.64)" stroke="#f8dc72" stroke-width="0.65" fill="none" opacity="1"/>
<ellipse cx="508.50" cy="102.88" rx="1.133621347856443" ry="0.7" transform="rotate(-30.398727714166057 508.50 102.88)" stroke="#f8dc72" stroke-width="0.65" fill="none" opacity="1"/>
<path d="M620.50,195.50 L621.83,195.07 L623.14,194.58 L624.43,194.08 L625.72,193.57 L627.01,193.05 L628.29,192.52 L629.58,192.00 L630.86,191.46 L632.13,190.93 L633.41,190.39 L634.69,189.85 L635.96,189.31 L637.23,188.77 L638.51,188.22 L639.78,187.68 L641.05,187.13 L642.32,186.58 L643.59,186.03 L644.86,185.48 L646.13,184.92 L647.40,184.37 L648.66,183.82 L649.93,183.26 L651.20,182.70 L652.46,182.15 L653.73,181.59 L655.00,181.03 L655.92,179.84 L656.83,178.61 L657.72,177.34 L656.28,174.66 L654.74,174.69 L653.21,174.76 L651.70,174.87 L650.54,175.61 L649.37,176.35 L648.20,177.10 L647.04,177.84 L645.87,178.58 L644.70,179.33 L643.54,180.08 L642.37,180.82 L641.21,181.57 L640.05,182.32 L638.88,183.07 L637.72,183.82 L636.56,184.58 L635.40,185.33 L634.24,186.09 L633.08,186.85 L631.92,187.61 L630.77,188.37 L629.61,189.14 L628.46,189.90 L627.31,190.68 L626.16,191.45 L625.01,192.23 L623.87,193.02 L622.73,193.82 L621.60,194.63 L620.50,195.50 Z" stroke="#f6d14a" stroke-width="1.0" fill="none" opacity="1" stroke-linejoin="round"/>
<path d="M630.00,190.50 L631.29,189.91 L632.58,189.33 L633.88,188.74 L635.17,188.16 L636.46,187.57 L637.75,186.99 L639.05,186.40 L640.34,185.82 L641.63,185.23 L642.92,184.64 L644.21,184.06 L645.51,183.47 L646.80,182.89 L648.09,182.30 L649.38,181.72 L650.68,181.13 L651.97,180.55 L653.26,179.96 L654.31,178.92 L655.34,177.84 L654.66,176.56 L653.19,176.81 L651.74,177.10 L650.53,177.84 L649.32,178.59 L648.12,179.33 L646.91,180.08 L645.70,180.82 L644.49,181.57 L643.29,182.31 L642.08,183.06 L640.87,183.80 L639.66,184.54 L638.45,185.29 L637.25,186.03 L636.04,186.78 L634.83,187.52 L633.62,188.27 L632.42,189.01 L631.21,189.76 L630.00,190.50 Z" stroke="#f8dc72" stroke-width="0.7" fill="none" opacity="1" stroke-linejoin="round"/>
<ellipse cx="637.60" cy="186.45" rx="1.1102887001060036" ry="0.7" transform="rotate(-27.979474388480146 637.60 186.45)" stroke="#f8dc72" stroke-width="0.65" fill="none" opacity="1"/>
<ellipse cx="640.80" cy="184.75" rx="1.4338846179444618" ry="0.7" transform="rotate(-27.979474388480146 640.80 184.75)" stroke="#f8dc72" stroke-width="0.65" fill="none" opacity="1"/>
<ellipse cx="644.00" cy="183.05" rx="1.1568893273007228" ry="0.7" transform="rotate(-27.979474388480146 644.00 183.05)" stroke="#f8dc72" stroke-width="0.65" fill="none" opacity="1"/>
<ellipse cx="647.20" cy="181.35" rx="1.4967495032327152" ry="0.7" transform="rotate(-27.979474388480146 647.20 181.35)" stroke="#f8dc72" stroke-width="0.65" fill="none" opacity="1"/>
<ellipse cx="650.40" cy="179.65" rx="1.5390781422625743" ry="0.7" transform="rotate(-27.979474388480146 650.40 179.65)" stroke="#f8dc72" stroke-width="0.65" fill="none" opacity="1"/>
<ellipse cx="514.20" cy="99.60" rx="3.2" ry="2.8" transform="rotate(0 514.20 99.60)" stroke="#f5b848" stroke-width="1.3" fill="#fbd9a0" opacity="1"/>
<ellipse cx="514.60" cy="99.40" rx="1.3" ry="1.1" transform="rotate(0 514.60 99.40)" stroke="#ec9080" stroke-width="0.8" fill="none" opacity="1"/>
<ellipse cx="513.70" cy="93.50" rx="0.9" ry="3" transform="rotate(0 513.70 93.50)" stroke="#f8dc72" stroke-width="0.7" fill="none" opacity="1"/>
<ellipse cx="515.90" cy="118.70" rx="1.3" ry="2.3" transform="rotate(0 515.90 118.70)" stroke="#f8dc72" stroke-width="0.7" fill="none" opacity="1"/>
<path d="M502.00,184.20 L503.51,184.79 L504.72,184.85 L505.87,184.79 L506.99,184.65 L508.07,184.46 L509.12,184.23 L510.16,183.94 L511.17,183.62 L512.16,183.26 L513.12,182.86 L514.07,182.42 L515.00,181.94 L515.90,181.43 L516.79,180.88 L517.66,180.29 L518.50,179.66 L519.32,178.99 L520.12,178.28 L520.90,177.52 L521.65,176.72 L522.37,175.86 L523.05,174.93 L523.67,173.88 L524.00,172.30 L524.00,172.30 L522.49,171.71 L521.28,171.65 L520.13,171.71 L519.01,171.85 L517.93,172.04 L516.88,172.27 L515.84,172.56 L514.83,172.88 L513.84,173.24 L512.88,173.64 L511.93,174.08 L511.00,174.56 L510.10,175.07 L509.21,175.62 L508.34,176.21 L507.50,176.84 L506.68,177.51 L505.88,178.22 L505.10,178.98 L504.35,179.78 L503.63,180.64 L502.95,181.57 L502.33,182.62 L502.00,184.20 Z" stroke="#f6cc48" stroke-width="1.1" fill="none" opacity="1" stroke-linejoin="round"/>
<path d="M506.00,182.00 L507.05,182.15 L507.98,182.08 L508.88,181.95 L509.75,181.78 L510.61,181.56 L511.44,181.31 L512.26,181.03 L513.06,180.71 L513.83,180.36 L514.59,179.97 L515.33,179.55 L516.06,179.09 L516.76,178.60 L517.44,178.07 L518.11,177.51 L518.75,176.92 L519.38,176.28 L519.98,175.60 L520.55,174.86 L521.00,173.90 L521.00,173.90 L519.95,173.75 L519.02,173.82 L518.12,173.95 L517.25,174.12 L516.39,174.34 L515.56,174.59 L514.74,174.87 L513.94,175.19 L513.17,175.54 L512.41,175.93 L511.67,176.35 L510.94,176.81 L510.24,177.30 L509.56,177.83 L508.89,178.39 L508.25,178.98 L507.62,179.62 L507.02,180.30 L506.45,181.04 L506.00,182.00 Z" stroke="#f3b850" stroke-width="0.9" fill="none" opacity="1" stroke-linejoin="round"/>
<ellipse cx="514.00" cy="176.80" rx="3.0" ry="5.2" transform="rotate(0 514.00 176.80)" stroke="#f7cf58" stroke-width="1.1" fill="none" opacity="1"/>
<ellipse cx="515.20" cy="175.20" rx="1.2" ry="1.6" transform="rotate(0 515.20 175.20)" stroke="#f3b050" stroke-width="0.9" fill="none" opacity="1"/>
<ellipse cx="511.50" cy="179.50" rx="1.4" ry="1.0" transform="rotate(-28 511.50 179.50)" stroke="#fbe9c0" stroke-width="0.6" fill="none" opacity="1"/>
<ellipse cx="620.30" cy="101.20" rx="2.0" ry="2.0" transform="rotate(0 620.30 101.20)" stroke="#f0a858" stroke-width="1.0" fill="#f9dcb0" opacity="1"/>
<ellipse cx="620.30" cy="119.60" rx="2.2" ry="2.0" transform="rotate(0 620.30 119.60)" stroke="#f3c060" stroke-width="0.9" fill="none" opacity="1"/>
<ellipse cx="654.60" cy="101.00" rx="2.8" ry="2.4" transform="rotate(0 654.60 101.00)" stroke="#f0a868" stroke-width="1.0" fill="#f8dcc8" opacity="1"/>
<ellipse cx="655.60" cy="176.20" rx="3.2" ry="4.0" transform="rotate(0 655.60 176.20)" stroke="#f7cf58" stroke-width="1.1" fill="none" opacity="1"/>
<ellipse cx="656.60" cy="175.00" rx="1.3" ry="1.6" transform="rotate(0 656.60 175.00)" stroke="#f3b050" stroke-width="0.9" fill="none" opacity="1"/>
<ellipse cx="531.80" cy="93.70" rx="1.6" ry="2.2" transform="rotate(0 531.80 93.70)" stroke="#f8dc72" stroke-width="0.7" fill="none" opacity="1"/>
<ellipse cx="545.70" cy="73.30" rx="1.2" ry="2.0" transform="rotate(0 545.70 73.30)" stroke="#f8dc72" stroke-width="0.7" fill="none" opacity="1"/>
<ellipse cx="553.90" cy="98.40" rx="1.8" ry="2.2" transform="rotate(0 553.90 98.40)" stroke="#f8dc72" stroke-width="0.7" fill="none" opacity="1"/>
<ellipse cx="540.00" cy="160.00" rx="0.8" ry="0.8" transform="rotate(0 540.00 160.00)" stroke="#f8dc72" stroke-width="0.7" fill="none" opacity="1"/>
<ellipse cx="511.50" cy="114.00" rx="1.4" ry="2" transform="rotate(0 511.50 114.00)" stroke="#f8dc72" stroke-width="0.7" fill="none" opacity="1"/>
<ellipse cx="621.40" cy="84.30" rx="1.4" ry="1.8" transform="rotate(0 621.40 84.30)" stroke="#f8dc72" stroke-width="0.7" fill="none" opacity="1"/>
<ellipse cx="623.00" cy="93.60" rx="1.6" ry="2" transform="rotate(0 623.00 93.60)" stroke="#f8dc72" stroke-width="0.7" fill="none" opacity="1"/>
<ellipse cx="626.00" cy="93.60" rx="1.2" ry="1.6" transform="rotate(0 626.00 93.60)" stroke="#f8dc72" stroke-width="0.7" fill="none" opacity="1"/>
<ellipse cx="638.60" cy="93.60" rx="1.6" ry="2" transform="rotate(0 638.60 93.60)" stroke="#f8dc72" stroke-width="0.7" fill="none" opacity="1"/>
<ellipse cx="641.50" cy="93.60" rx="1.2" ry="1.6" transform="rotate(0 641.50 93.60)" stroke="#f8dc72" stroke-width="0.7" fill="none" opacity="1"/>
<ellipse cx="605.00" cy="96.40" rx="1.2" ry="1.6" transform="rotate(0 605.00 96.40)" stroke="#f8dc72" stroke-width="0.7" fill="none" opacity="1"/>
<ellipse cx="628.60" cy="96.40" rx="1.2" ry="1" transform="rotate(0 628.60 96.40)" stroke="#f8dc72" stroke-width="0.7" fill="none" opacity="1"/>
<ellipse cx="654.30" cy="92.10" rx="1.4" ry="2" transform="rotate(0 654.30 92.10)" stroke="#f8dc72" stroke-width="0.7" fill="none" opacity="1"/>
<ellipse cx="660.40" cy="110.50" rx="1.6" ry="4.2" transform="rotate(0 660.40 110.50)" stroke="#f8dc72" stroke-width="0.7" fill="none" opacity="1"/>
<ellipse cx="668.00" cy="109.70" rx="1.4" ry="1.8" transform="rotate(0 668.00 109.70)" stroke="#f8dc72" stroke-width="0.7" fill="none" opacity="1"/>
<ellipse cx="671.00" cy="109.70" rx="1.4" ry="1.8" transform="rotate(0 671.00 109.70)" stroke="#f8dc72" stroke-width="0.7" fill="none" opacity="1"/>
<ellipse cx="666.50" cy="117.90" rx="1" ry="1" transform="rotate(0 666.50 117.90)" stroke="#f8dc72" stroke-width="0.7" fill="none" opacity="1"/>
<ellipse cx="669.50" cy="117.90" rx="1" ry="1" transform="rotate(0 669.50 117.90)" stroke="#f8dc72" stroke-width="0.7" fill="none" opacity="1"/>
<ellipse cx="660.00" cy="126.00" rx="0.8" ry="2" transform="rotate(0 660.00 126.00)" stroke="#f8dc72" stroke-width="0.7" fill="none" opacity="1"/>
<ellipse cx="687.90" cy="71.20" rx="0.8" ry="0.8" transform="rotate(0 687.90 71.20)" stroke="#f8dc72" stroke-width="0.7" fill="none" opacity="1"/>
<ellipse cx="698.90" cy="91.50" rx="2" ry="2" transform="rotate(0 698.90 91.50)" stroke="#f8dc72" stroke-width="0.7" fill="none" opacity="1"/>
<ellipse cx="653.70" cy="82.90" rx="0.9" ry="0.9" transform="rotate(0 653.70 82.90)" stroke="#f8dc72" stroke-width="0.7" fill="none" opacity="1"/>
<ellipse cx="653.60" cy="138.60" rx="1" ry="1.8" transform="rotate(0 653.60 138.60)" stroke="#f8dc72" stroke-width="0.7" fill="none" opacity="1"/>
<ellipse cx="657.20" cy="155.70" rx="1.6" ry="1.8" transform="rotate(0 657.20 155.70)" stroke="#f8dc72" stroke-width="0.7" fill="none" opacity="1"/>
<ellipse cx="668.20" cy="166.70" rx="1.8" ry="1.6" transform="rotate(0 668.20 166.70)" stroke="#f8dc72" stroke-width="0.7" fill="none" opacity="1"/>
<ellipse cx="621.80" cy="175.20" rx="1.8" ry="1.5" transform="rotate(0 621.80 175.20)" stroke="#f8dc72" stroke-width="0.7" fill="none" opacity="1"/>
<ellipse cx="653.50" cy="44.50" rx="0.5" ry="0.9" transform="rotate(0 653.50 44.50)" stroke="#f8dc72" stroke-width="0.7" fill="none" opacity="1"/>
<ellipse cx="598.00" cy="105.00" rx="1.2" ry="1.2" transform="rotate(0 598.00 105.00)" stroke="#f8dc72" stroke-width="0.7" fill="none" opacity="1"/>
<ellipse cx="608.00" cy="103.00" rx="1" ry="1.4" transform="rotate(0 608.00 103.00)" stroke="#f8dc72" stroke-width="0.7" fill="none" opacity="1"/>
<ellipse cx="633.00" cy="103.00" rx="1.4" ry="1.2" transform="rotate(0 633.00 103.00)" stroke="#f8dc72" stroke-width="0.7" fill="none" opacity="1"/>
<ellipse cx="644.00" cy="102.50" rx="1.2" ry="1.6" transform="rotate(0 644.00 102.50)" stroke="#f8dc72" stroke-width="0.7" fill="none" opacity="1"/>
<ellipse cx="617.00" cy="90.00" rx="0.7" ry="0.7" transform="rotate(0 617.00 90.00)" stroke="#f8dc72" stroke-width="0.7" fill="none" opacity="1"/>
<ellipse cx="604.00" cy="88.00" rx="0.6" ry="0.6" transform="rotate(0 604.00 88.00)" stroke="#f8dc72" stroke-width="0.7" fill="none" opacity="1"/>
<ellipse cx="550.00" cy="160.00" rx="0.8" ry="0.8" transform="rotate(0 550.00 160.00)" stroke="#f8dc72" stroke-width="0.7" fill="none" opacity="1"/>
</g>
<line x1="253.9" y1="97.6" x2="253.9" y2="115.7" stroke="#6c6642" stroke-width="1.25" />
<line x1="254.5" y1="115.6" x2="308.5" y2="115.6" stroke="#606060" stroke-width="1.2" />
<line x1="301.0" y1="97.6" x2="301.0" y2="115.6" stroke="#70684a" stroke-width="1.25" />
<path d="M75.2,97.6 L308.5,97.6 L308.5,179.6 L75.2,179.6 Z" fill="none" stroke="#1a1a1a" stroke-width="1.75"/>
<path d="M75.2,115.7 L254.5,115.7 L254.5,179.6" fill="none" stroke="#1a1a1a" stroke-width="1.65"/>
<path d="M75.2,179.6 L308.5,179.6" fill="none" stroke="#000" stroke-width="1.9"/>
<path d="M513.6,100.8 L654.9,100.8 L654.9,178.4 L513.6,178.4 Z" fill="none" stroke="#5a5a5a" stroke-width="1.15"/>
<path d="M620.0,100.8 L654.9,100.8 L654.9,119.25 L620.0,119.25 Z" fill="none" stroke="#3c3c3c" stroke-width="1.1"/>
<line x1="53.9" y1="76.1" x2="69.77841421433054" y2="92.13640838561741" stroke="#111" stroke-width="1.6" />
<path d="M74.00,96.40 L66.80,93.68 L71.35,89.17 Z" fill="#111"/>
<text transform="translate(41.44,73.8) scale(0.88,1)" font-family="&quot;Liberation Serif&quot;, serif" font-size="17" fill="#111">H-6’</text>
<line x1="273.9" y1="79.8" x2="294.4120101759695" y2="92.62000635998092" stroke="#111" stroke-width="1.6" />
<path d="M299.50,95.80 L291.87,94.80 L295.26,89.38 Z" fill="#111"/>
<text transform="translate(259.84,77.4) scale(0.88,1)" font-family="&quot;Liberation Serif&quot;, serif" font-size="17" fill="#111">H-3’</text>
<line x1="275.5" y1="202" x2="260.103646773288" y2="185.5772232248405" stroke="#111" stroke-width="1.6" />
<path d="M256.00,181.20 L263.12,184.12 L258.45,188.50 Z" fill="#111"/>
<text transform="translate(263.04,216.7) scale(0.88,1)" font-family="&quot;Liberation Serif&quot;, serif" font-size="17" fill="#111">H-4’</text>
<line x1="329.4" y1="200.7" x2="315.095495324307" y2="185.38485097222005" stroke="#111" stroke-width="1.6" />
<path d="M311.00,181.00 L318.12,183.93 L313.44,188.30 Z" fill="#111"/>
<text transform="translate(317.64,216.6) scale(0.88,1)" font-family="&quot;Liberation Serif&quot;, serif" font-size="17" fill="#111">H-5’</text>
<line x1="485.5" y1="82.9" x2="506.42629598286845" y2="95.45577758972108" stroke="#111" stroke-width="1.4" />
<path d="M512.00,98.80 L504.28,97.09 L506.86,92.80 Z" fill="#111"/>
<text transform="translate(473.33,80.4) scale(0.9,1)" font-family="&quot;Liberation Serif&quot;, serif" font-size="14.7" fill="#111">H-6’</text>
<line x1="578.1" y1="71.2" x2="614.7936495429506" y2="95.69148579945148" stroke="#111" stroke-width="1.4" />
<path d="M620.20,99.30 L612.63,97.13 L615.29,93.14 Z" fill="#111"/>
<text transform="translate(564.92,69.9) scale(0.95,1)" font-family="&quot;Liberation Serif&quot;, serif" font-size="14.7" fill="#111">H-4’</text>
<line x1="692" y1="206" x2="664.7077852403895" y2="184.52001616141766" stroke="#111" stroke-width="1.4" />
<path d="M659.60,180.50 L667.04,183.17 L663.95,187.10 Z" fill="#111"/>
<text transform="translate(685.01,220.5) scale(0.95,1)" font-family="&quot;Liberation Serif&quot;, serif" font-size="14.7" fill="#111">H-5’</text>
</svg>
</body></html>
